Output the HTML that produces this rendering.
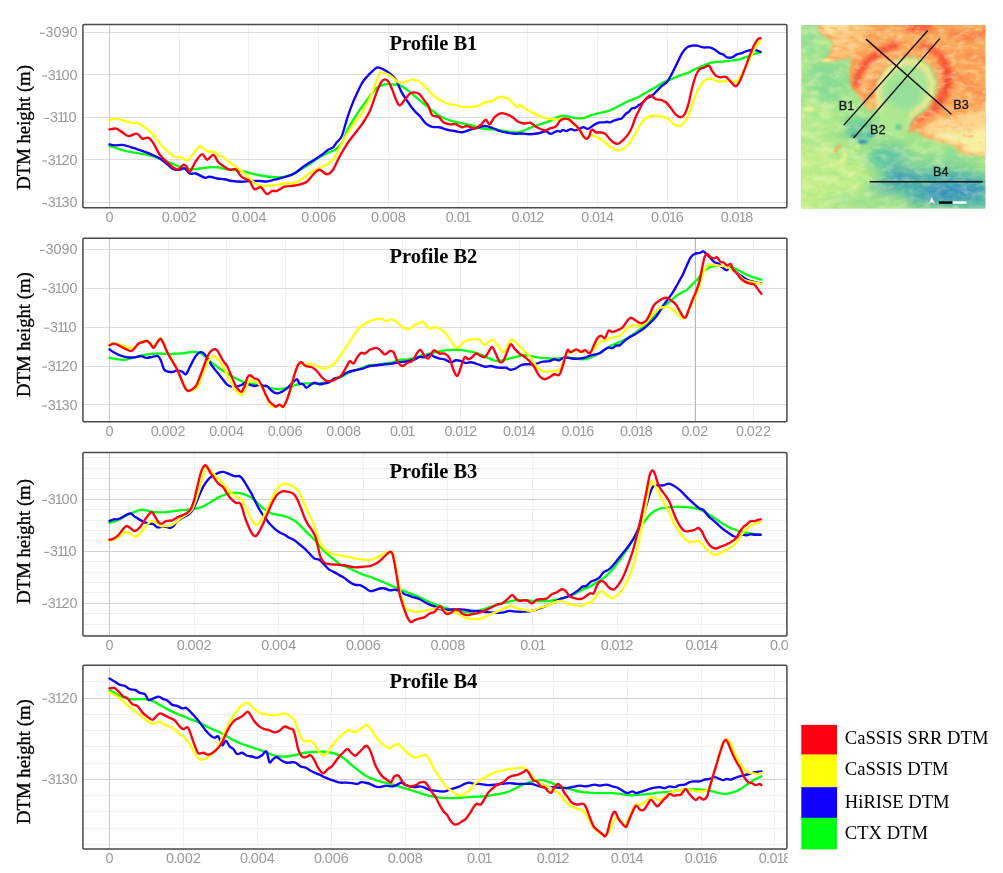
<!DOCTYPE html>
<html><head><meta charset="utf-8"><title>DTM profiles</title>
<style>
html,body{margin:0;padding:0;background:#fff;}
body{width:1003px;height:873px;overflow:hidden;}
svg{display:block;filter:blur(0.4px);will-change:transform;}
.tk{font-family:"Liberation Sans",sans-serif;font-size:14.4px;fill:#9a9a9a;}
.ti{font-family:"Liberation Serif",serif;font-weight:bold;font-size:20.5px;fill:#000;}
.yl{font-family:"Liberation Serif",serif;font-size:18.7px;fill:#000;stroke:#000;stroke-width:0.35px;}
.lg{font-family:"Liberation Serif",serif;font-size:18.6px;fill:#000;}
.mp{font-family:"Liberation Sans",sans-serif;font-size:13px;fill:#111;}
.cv{fill:none;stroke-width:2.35;stroke-linejoin:round;stroke-linecap:round;}
</style></head><body>
<svg width="1003" height="873" viewBox="0 0 1003 873">
<rect x="0" y="0" width="1003" height="873" fill="#fff"/>
<defs>
<clipPath id="cp1"><rect x="82.9" y="24.5" width="704.0" height="183.2"/></clipPath>
<clipPath id="ct1"><rect x="0" y="207.7" width="787.8" height="40"/></clipPath>
<clipPath id="cp2"><rect x="82.9" y="238.3" width="704.0" height="183.4"/></clipPath>
<clipPath id="ct2"><rect x="0" y="421.7" width="787.8" height="40"/></clipPath>
<clipPath id="cp3"><rect x="82.9" y="452.4" width="704.0" height="183.5"/></clipPath>
<clipPath id="ct3"><rect x="0" y="635.9" width="787.8" height="40"/></clipPath>
<clipPath id="cp4"><rect x="82.9" y="665.3" width="704.0" height="183.7"/></clipPath>
<clipPath id="ct4"><rect x="0" y="849.0" width="787.8" height="40"/></clipPath>
<clipPath id="mapclip"><rect x="24" y="23" width="828" height="825"/></clipPath>
<clipPath id="orclip"><path d="M110 0 L100 50 L170 100 L150 160 L115 188 L200 178 L250 165 L238 230 L250 300 L296 360 L328 405 L368 396 L362 340 L356 300 L374 250 L414 204 L472 170 L540 165 L600 200 L635 270 L630 340 L590 400 L540 440 L500 505 L545 500 L570 525 L640 545 L700 560 L760 605 L880 612 L880 0 Z"/></clipPath>
<filter id="mb1" x="-20%" y="-20%" width="140%" height="140%"><feGaussianBlur stdDeviation="7"/></filter>
<filter id="mb2" x="-30%" y="-30%" width="160%" height="160%"><feGaussianBlur stdDeviation="24"/></filter>
<filter id="mb3" x="-20%" y="-20%" width="140%" height="140%"><feGaussianBlur stdDeviation="5"/></filter>
<filter id="mb4" x="-20%" y="-20%" width="140%" height="140%"><feGaussianBlur stdDeviation="11"/></filter>
<filter id="ngh" x="0" y="0" width="100%" height="100%"><feTurbulence type="fractalNoise" baseFrequency="0.018 0.03" numOctaves="3" seed="11"/><feColorMatrix type="matrix" values="0 0 0 0 0.88  0 0 0 0 1  0 0 0 0 0.6  2.4 0 0 0 -1.05"/></filter>
<filter id="ngs" x="0" y="0" width="100%" height="100%"><feTurbulence type="fractalNoise" baseFrequency="0.018 0.03" numOctaves="3" seed="11"/><feColorMatrix type="matrix" values="0 0 0 0 0.2  0 0 0 0 0.72  0 0 0 0 0.4  -2.6 0 0 0 1.1"/></filter>
<filter id="noh" x="0" y="0" width="100%" height="100%"><feTurbulence type="fractalNoise" baseFrequency="0.025 0.045" numOctaves="3" seed="5"/><feColorMatrix type="matrix" values="0 0 0 0 1  0 0 0 0 0.86  0 0 0 0 0.6  2.6 0 0 0 -1.15"/></filter>
<filter id="nos" x="0" y="0" width="100%" height="100%"><feTurbulence type="fractalNoise" baseFrequency="0.025 0.045" numOctaves="3" seed="5"/><feColorMatrix type="matrix" values="0 0 0 0 0.96  0 0 0 0 0.25  0 0 0 0 0.12  -2.8 0 0 0 1.15"/></filter>
</defs>
<!-- panel 1 -->
<g>
<path d="M179.5 24.5V207.7M248.5 24.5V207.7M318.5 24.5V207.7M388.5 24.5V207.7M458.5 24.5V207.7M527.5 24.5V207.7M597.5 24.5V207.7M667.5 24.5V207.7M737.5 24.5V207.7" stroke="#f0f0f0" stroke-width="1" fill="none"/>
<path d="M82.9 32.5H786.9M82.9 74.5H786.9M82.9 117.5H786.9M82.9 159.5H786.9M82.9 202.5H786.9" stroke="#dedede" stroke-width="1" fill="none"/>
<path d="M109.5 24.5V207.7" stroke="#cbcbcb" stroke-width="1" fill="none"/>
<g clip-path="url(#cp1)">
<path class="cv" stroke="#00ff10" d="M109.47 146.08C111.22 146.62 116.53 148.37 119.94 149.32C123.35 150.28 126.59 151.11 129.91 151.81C133.23 152.52 136.56 152.98 139.88 153.56C143.2 154.14 146.53 154.47 149.85 155.3C153.17 156.13 156.5 157.3 159.82 158.54C163.14 159.79 166.47 161.41 169.79 162.78C173.11 164.15 176.44 165.69 179.76 166.77C183.08 167.85 186.41 168.97 189.73 169.26C193.05 169.55 196.38 168.85 199.7 168.51C203.02 168.18 206.76 167.48 209.67 167.27C212.58 167.06 214.24 166.94 217.15 167.27C220.06 167.6 223.8 168.76 227.12 169.26C230.44 169.76 233.77 169.76 237.09 170.26C240.41 170.76 243.74 171.51 247.06 172.25C250.38 173 253.29 174 257.03 174.75C260.77 175.49 265.75 176.32 269.49 176.74C273.23 177.16 276.14 177.49 279.46 177.24C282.78 176.99 286.11 176.41 289.43 175.24C292.76 174.08 296.08 172.09 299.4 170.26C302.73 168.43 306.05 166.44 309.37 164.28C312.7 162.12 316.02 159.29 319.34 157.3C322.67 155.3 326.4 153.77 329.31 152.31C332.22 150.86 334.5 150.44 336.79 148.57C339.07 146.7 341.24 144.23 343.02 141.1C344.8 137.96 345.49 133.73 347.48 129.76C349.47 125.79 352.46 121.24 354.96 117.3C357.45 113.35 359.94 109.61 362.43 106.08C364.93 102.55 367.42 99.23 369.91 96.11C372.4 93 374.9 89.34 377.39 87.39C379.88 85.44 382.37 84.9 384.87 84.4C387.36 83.9 389.85 84.23 392.34 84.4C394.84 84.56 397.33 84.48 399.82 85.39C402.31 86.31 404.81 88.09 407.3 89.88C409.79 91.67 412.28 94.03 414.78 96.11C417.27 98.19 419.76 100.27 422.25 102.34C424.75 104.42 427.24 106.58 429.73 108.57C432.22 110.57 434.72 112.65 437.21 114.31C439.7 115.97 442.19 117.42 444.69 118.54C447.18 119.67 449.67 120.33 452.16 121.04C454.66 121.74 457.15 122.24 459.64 122.78C462.13 123.32 464.63 123.74 467.12 124.28C469.61 124.82 472.1 125.32 474.6 126.02C477.09 126.73 479.58 127.97 482.07 128.51C484.57 129.05 487.06 129.05 489.55 129.26C492.04 129.47 494.54 129.47 497.03 129.76C499.52 130.05 502.01 130.59 504.51 131.01C507 131.42 509.49 132.05 511.98 132.25C514.48 132.46 516.97 132.75 519.46 132.25C521.95 131.75 524.45 130.3 526.94 129.26C529.43 128.22 531.24 127.16 534.42 126.02C537.59 124.88 543.06 123.43 545.98 122.42C548.91 121.4 549.97 120.84 551.96 119.93C553.96 119.01 556.12 117.6 557.95 116.93C559.77 116.27 561.27 116.02 562.93 115.94C564.59 115.85 566.09 116.1 567.92 116.44C569.74 116.77 571.9 117.6 573.9 117.93C575.89 118.26 577.89 118.51 579.88 118.43C581.87 118.35 583.87 118.01 585.86 117.43C587.86 116.85 589.85 115.6 591.84 114.94C593.84 114.28 595.83 113.91 597.83 113.44C599.82 112.98 601.81 112.65 603.81 112.15C605.8 111.65 607.8 111.23 609.79 110.45C611.78 109.67 613.78 108.46 615.77 107.46C617.77 106.47 619.76 105.47 621.75 104.47C623.75 103.47 625.74 102.39 627.74 101.48C629.73 100.57 631.89 99.74 633.72 98.99C635.55 98.24 637.28 97.7 638.7 96.99C640.13 96.29 640.42 95.86 642.25 94.78C644.09 93.71 647.24 91.96 649.73 90.54C652.22 89.13 654.72 87.76 657.21 86.31C659.7 84.85 662.19 83.07 664.69 81.82C667.18 80.57 669.67 79.87 672.16 78.83C674.66 77.79 677.15 76.54 679.64 75.59C682.13 74.63 684.63 74.14 687.12 73.1C689.61 72.06 692.1 70.48 694.6 69.36C697.09 68.24 699.58 67.41 702.07 66.37C704.57 65.33 707.06 63.87 709.55 63.13C712.04 62.38 714.54 62.17 717.03 61.88C719.52 61.59 722.01 61.59 724.51 61.38C727 61.17 729.49 60.97 731.98 60.63C734.48 60.3 736.97 60.01 739.46 59.39C741.95 58.76 744.45 57.81 746.94 56.9C749.43 55.98 752.13 54.65 754.42 53.9C756.7 53.16 759.61 52.66 760.65 52.41"/>
<path class="cv" stroke="#1000ff" d="M109.47 144.34C110.39 144.5 112.79 145.25 114.96 145.33C117.12 145.42 119.94 144.59 122.43 144.84C124.93 145.08 127.42 146.08 129.91 146.83C132.4 147.58 134.9 148.49 137.39 149.32C139.88 150.15 142.37 150.9 144.87 151.81C147.36 152.73 149.85 153.68 152.34 154.81C154.84 155.93 157.33 156.97 159.82 158.54C162.31 160.12 165.01 162.49 167.3 164.28C169.58 166.06 171.45 168.35 173.53 169.26C175.61 170.18 177.89 169.89 179.76 169.76C181.63 169.64 183.08 167.89 184.75 168.51C186.41 169.14 187.86 172.67 189.73 173.5C191.6 174.33 193.47 172.79 195.96 173.5C198.45 174.21 202.4 177.2 204.69 177.74C206.97 178.28 207.59 176.62 209.67 176.74C211.75 176.86 214.66 178.07 217.15 178.48C219.64 178.9 222.13 178.82 224.63 179.23C227.12 179.65 229.2 180.56 232.1 180.98C235.01 181.39 239.17 181.72 242.07 181.72C244.98 181.72 246.64 181.1 249.55 180.98C252.46 180.85 256.61 180.89 259.52 180.98C262.43 181.06 264.51 181.68 267 181.48C269.49 181.27 271.57 180.44 274.48 179.73C277.38 179.02 281.12 178.28 284.45 177.24C287.77 176.2 291.09 175.37 294.42 173.5C297.74 171.63 301.06 168.31 304.39 166.02C307.71 163.74 311.45 161.66 314.36 159.79C317.26 157.92 319.55 156.47 321.83 154.81C324.12 153.14 326.2 151.07 328.07 149.82C329.94 148.57 331.6 148.57 333.05 147.33C334.5 146.08 335.34 144.21 336.79 142.34C338.24 140.47 339.99 140.29 341.77 136.11C343.56 131.94 345.7 122.72 347.48 117.3C349.26 111.88 350.8 107.74 352.46 103.59C354.12 99.44 355.79 95.9 357.45 92.37C359.11 88.84 360.77 85.1 362.43 82.4C364.09 79.7 365.76 78.04 367.42 76.17C369.08 74.3 370.74 72.64 372.4 71.19C374.06 69.73 375.52 67.74 377.39 67.45C379.26 67.16 381.54 68.4 383.62 69.44C385.7 70.48 387.77 71.93 389.85 73.68C391.93 75.42 394.21 77 396.08 79.91C397.95 82.82 399.2 87.6 401.07 91.13C402.94 94.66 405.22 97.98 407.3 101.1C409.38 104.21 411.45 107.33 413.53 109.82C415.61 112.31 417.68 113.77 419.76 116.05C421.84 118.34 423.91 121.74 425.99 123.53C428.07 125.32 429.94 126.15 432.22 126.77C434.51 127.39 437.21 126.77 439.7 127.27C442.19 127.77 444.69 129.14 447.18 129.76C449.67 130.38 452.16 130.59 454.66 131.01C457.15 131.42 459.64 132.46 462.13 132.25C464.63 132.05 467.12 130.51 469.61 129.76C472.1 129.01 474.6 128.39 477.09 127.77C479.58 127.14 482.07 126.02 484.57 126.02C487.06 126.02 489.55 126.94 492.04 127.77C494.54 128.6 497.03 130.18 499.52 131.01C502.01 131.84 504.51 132.29 507 132.75C509.49 133.21 511.98 133.62 514.48 133.75C516.97 133.87 519.46 133.42 521.95 133.5C524.45 133.58 526.94 134.25 529.43 134.25C531.92 134.25 534.15 133.98 536.91 133.5C539.67 133.02 543.72 131.33 545.98 131.39C548.24 131.45 548.97 133.8 550.47 133.88C551.96 133.97 553.71 132.39 554.96 131.89C556.2 131.39 557.03 130.93 557.95 130.89C558.86 130.86 559.61 131.86 560.44 131.69C561.27 131.52 561.93 130 562.93 129.9C563.93 129.8 565.09 131.22 566.42 131.09C567.75 130.96 569.58 129.21 570.91 129.1C572.24 128.98 573.23 130.29 574.4 130.39C575.56 130.49 576.89 130.03 577.89 129.7C578.88 129.36 579.46 128.83 580.38 128.4C581.29 127.97 582.12 127.02 583.37 127.1C584.62 127.19 586.44 129.01 587.86 128.9C589.27 128.78 590.52 127.24 591.84 126.41C593.17 125.57 594.5 124.58 595.83 123.91C597.16 123.25 598.49 122.67 599.82 122.42C601.15 122.17 602.65 122.53 603.81 122.42C604.97 122.3 605.8 121.72 606.8 121.72C607.8 121.72 608.63 122.58 609.79 122.42C610.95 122.25 612.45 121.22 613.78 120.72C615.11 120.22 616.44 119.81 617.77 119.43C619.1 119.04 620.43 119.34 621.75 118.43C623.08 117.52 624.58 115.02 625.74 113.94C626.91 112.86 627.74 112.86 628.73 111.95C629.73 111.04 630.73 109.12 631.72 108.46C632.72 107.79 633.72 108.38 634.72 107.96C635.71 107.55 637.04 106.43 637.71 105.97C638.37 105.5 637.95 105.66 638.7 105.17C639.46 104.68 640.83 104.2 642.25 103.01C643.68 101.82 645.58 99.27 647.24 98.02C648.9 96.78 650.56 96.78 652.22 95.53C653.89 94.28 655.55 92.21 657.21 90.54C658.87 88.88 660.53 87.01 662.19 85.56C663.86 84.11 665.52 83.9 667.18 81.82C668.84 79.74 670.5 76.21 672.16 73.1C673.83 69.98 675.49 66.45 677.15 63.13C678.81 59.8 680.47 55.77 682.13 53.16C683.8 50.54 685.46 48.67 687.12 47.42C688.78 46.18 690.44 45.97 692.1 45.68C693.77 45.39 695.22 45.39 697.09 45.68C698.96 45.97 701.24 47.13 703.32 47.42C705.4 47.71 707.68 47.09 709.55 47.42C711.42 47.76 712.87 48.46 714.54 49.42C716.2 50.37 718.07 52.33 719.52 53.16C720.98 53.99 722.01 53.7 723.26 54.4C724.51 55.11 725.55 56.9 727 57.39C728.45 57.89 730.32 57.89 731.98 57.39C733.65 56.9 735.31 55.11 736.97 54.4C738.63 53.7 740.5 53.66 741.95 53.16C743.41 52.66 744.24 51.91 745.69 51.41C747.15 50.91 749.02 50.37 750.68 50.17C752.34 49.96 754 49.87 755.66 50.17C757.32 50.46 759.82 51.62 760.65 51.91"/>
<path class="cv" stroke="#ffff0a" d="M109.47 119.91C110.72 119.7 114.37 118.46 116.95 118.66C119.52 118.87 122.35 120.45 124.93 121.16C127.5 121.86 130.33 122.61 132.4 122.9C134.48 123.19 135.31 122.15 137.39 122.9C139.46 123.65 142.37 125.6 144.87 127.39C147.36 129.17 149.85 130.92 152.34 133.62C154.84 136.32 157.33 140.68 159.82 143.59C162.31 146.5 164.81 148.87 167.3 151.07C169.79 153.27 172.49 155.76 174.78 156.8C177.06 157.84 178.93 156.72 181.01 157.3C183.08 157.88 185.37 160.62 187.24 160.29C189.11 159.96 190.15 157.67 192.22 155.3C194.3 152.94 197.62 147 199.7 146.08C201.78 145.17 203.02 148.87 204.69 149.82C206.35 150.78 208.22 151.61 209.67 151.81C211.12 152.02 211.96 150.36 213.41 151.07C214.86 151.77 216.94 155.22 218.39 156.05C219.85 156.88 220.26 155.01 222.13 156.05C224 157.09 227.12 160.41 229.61 162.28C232.1 164.15 234.6 165.4 237.09 167.27C239.58 169.14 242.49 171.63 244.57 173.5C246.64 175.37 247.47 176.7 249.55 178.48C251.63 180.27 254.54 182.97 257.03 184.22C259.52 185.46 261.6 185.8 264.51 185.96C267.41 186.13 271.15 185.63 274.48 185.21C277.8 184.8 281.12 183.89 284.45 183.47C287.77 183.05 291.09 183.76 294.42 182.72C297.74 181.68 301.48 179.07 304.39 177.24C307.29 175.41 309.37 173.33 311.86 171.75C314.36 170.18 316.85 168.93 319.34 167.77C321.83 166.6 324.33 166.44 326.82 164.78C329.31 163.11 331.8 161.33 334.3 157.8C336.79 154.27 339.58 147.64 341.77 143.59C343.97 139.54 345.28 137.05 347.48 133.5C349.67 129.95 352.46 125.81 354.96 122.28C357.45 118.75 359.94 116.26 362.43 112.31C364.93 108.37 367.63 103.59 369.91 98.6C372.2 93.62 374.48 86.68 376.14 82.4C377.8 78.12 378.22 74.39 379.88 72.93C381.54 71.48 384.24 73.14 386.11 73.68C387.98 74.22 389.02 74.72 391.1 76.17C393.17 77.63 396.29 81.45 398.57 82.4C400.86 83.36 402.52 82.4 404.81 81.9C407.09 81.41 410 79.54 412.28 79.41C414.57 79.29 416.44 80.03 418.51 81.16C420.59 82.28 422.46 83.94 424.75 86.14C427.03 88.34 429.73 92.08 432.22 94.37C434.72 96.65 437.21 98.31 439.7 99.85C442.19 101.39 444.69 102.76 447.18 103.59C449.67 104.42 452.16 104.3 454.66 104.84C457.15 105.38 459.64 106.5 462.13 106.83C464.63 107.16 467.12 106.95 469.61 106.83C472.1 106.7 474.6 106.83 477.09 106.08C479.58 105.33 482.07 103.17 484.57 102.34C487.06 101.51 489.76 101.93 492.04 101.1C494.33 100.27 496.41 98.06 498.28 97.36C500.14 96.65 501.39 96.44 503.26 96.86C505.13 97.27 507.21 98.19 509.49 99.85C511.78 101.51 515.1 105.92 516.97 106.83C518.84 107.74 519.05 104.84 520.71 105.33C522.37 105.83 524.65 108.45 526.94 109.82C529.22 111.19 531.41 112.21 534.42 113.56C537.42 114.91 542.39 117.04 544.99 117.93C547.58 118.83 547.81 118.68 549.97 118.93C552.13 119.18 555.95 119.46 557.95 119.43C559.94 119.39 560.6 118.85 561.93 118.73C563.26 118.61 564.68 118.56 565.92 118.73C567.17 118.89 568.25 118.94 569.41 119.73C570.57 120.51 571.66 122.22 572.9 123.41C574.15 124.61 575.73 125.66 576.89 126.9C578.05 128.15 578.72 129.2 579.88 130.89C581.04 132.59 582.71 135.71 583.87 137.07C585.03 138.44 585.95 139.23 586.86 139.07C587.77 138.9 588.69 136.77 589.35 136.08C590.02 135.38 590.1 134.91 590.85 134.88C591.6 134.85 592.34 135.3 593.84 135.88C595.33 136.46 597.83 137.21 599.82 138.37C601.81 139.53 603.81 141.28 605.8 142.86C607.8 144.44 609.79 146.6 611.78 147.84C613.78 149.09 615.77 150.17 617.77 150.33C619.76 150.5 621.75 150.08 623.75 148.84C625.74 147.59 627.9 145.18 629.73 142.86C631.56 140.53 633.22 137.37 634.72 134.88C636.21 132.39 637.86 129.47 638.7 127.9C639.54 126.33 638.75 126.89 639.76 125.44C640.77 123.99 643.08 120.75 644.75 119.21C646.41 117.67 648.07 116.84 649.73 116.22C651.39 115.59 652.64 115.39 654.72 115.47C656.79 115.55 659.91 116.09 662.19 116.72C664.48 117.34 666.56 118.05 668.42 119.21C670.29 120.37 671.75 122.53 673.41 123.69C675.07 124.86 676.73 126.19 678.39 126.19C680.06 126.19 681.72 125.48 683.38 123.69C685.04 121.91 686.7 119.13 688.36 115.47C690.03 111.81 691.69 106.12 693.35 101.76C695.01 97.4 696.67 92.62 698.33 89.3C700 85.97 701.66 83.57 703.32 81.82C704.98 80.08 706.64 79.24 708.31 78.83C709.97 78.41 711.63 78.91 713.29 79.33C714.95 79.74 716.41 80.99 718.28 81.32C720.14 81.65 722.43 81.45 724.51 81.32C726.58 81.2 728.87 80.49 730.74 80.57C732.61 80.66 734.27 82.24 735.72 81.82C737.18 81.41 738.01 80.16 739.46 78.08C740.92 76 742.78 72.47 744.45 69.36C746.11 66.24 747.77 62.71 749.43 59.39C751.09 56.06 752.96 52.12 754.42 49.42C755.87 46.72 757.12 44.52 758.16 43.19C759.19 41.86 760.23 41.73 760.65 41.44"/>
<path class="cv" stroke="#ff0010" d="M109.47 129.38C110.59 129.26 114.04 128.14 116.2 128.63C118.36 129.13 120.36 131.13 122.43 132.37C124.51 133.62 126.25 135.9 128.66 136.11C131.07 136.32 134.6 133.2 136.89 133.62C139.17 134.03 140.42 137.9 142.37 138.6C144.33 139.31 146.73 137.03 148.6 137.86C150.47 138.69 151.72 140.76 153.59 143.59C155.46 146.41 157.54 151.69 159.82 154.81C162.11 157.92 165.01 160.12 167.3 162.28C169.58 164.44 171.66 166.6 173.53 167.77C175.4 168.93 176.85 169.76 178.51 169.26C180.18 168.76 182.13 165.19 183.5 164.78C184.87 164.36 185.7 165.61 186.74 166.77C187.78 167.93 188.19 172.71 189.73 171.75C191.27 170.8 193.89 163.99 195.96 161.04C198.04 158.09 200.32 154.27 202.19 154.06C204.06 153.85 205.31 159.67 207.18 159.79C209.05 159.92 211.54 154.39 213.41 154.81C215.28 155.22 216.73 160.41 218.39 162.28C220.06 164.15 221.51 164.78 223.38 166.02C225.25 167.27 227.53 169.22 229.61 169.76C231.69 170.3 233.97 168.22 235.84 169.26C237.71 170.3 239.37 174.45 240.83 175.99C242.28 177.53 243.11 177.65 244.57 178.48C246.02 179.32 247.89 179.19 249.55 180.98C251.21 182.76 252.67 188.16 254.54 189.2C256.41 190.24 258.69 186.38 260.77 187.21C262.84 188.04 265.13 193.56 267 194.19C268.87 194.81 270.32 191.49 271.98 190.95C273.65 190.41 274.89 191.65 276.97 190.95C279.05 190.24 281.95 187.54 284.45 186.71C286.94 185.88 289.43 186.29 291.92 185.96C294.42 185.63 296.91 185.42 299.4 184.72C301.89 184.01 304.59 183.39 306.88 181.72C309.16 180.06 311.03 176.74 313.11 174.75C315.19 172.75 317.06 169.84 319.34 169.76C321.63 169.68 324.53 174.25 326.82 174.25C329.1 174.25 330.97 172.59 333.05 169.76C335.13 166.94 336.88 161.68 339.28 157.3C341.69 152.92 344.87 147.44 347.48 143.47C350.09 139.5 352.46 136.82 354.96 133.5C357.45 130.18 359.94 127.27 362.43 123.53C364.93 119.79 367.63 116.05 369.91 111.07C372.2 106.08 374.27 98.4 376.14 93.62C378.01 88.84 379.67 84.77 381.13 82.4C382.58 80.03 383.62 79.49 384.87 79.41C386.11 79.33 387.36 80.16 388.6 81.9C389.85 83.65 391.1 86.89 392.34 89.88C393.59 92.87 394.84 97.27 396.08 99.85C397.33 102.43 398.37 105.33 399.82 105.33C401.27 105.33 403.14 101.8 404.81 99.85C406.47 97.9 408.13 94.87 409.79 93.62C411.45 92.37 413.11 92.25 414.78 92.37C416.44 92.5 418.1 92.91 419.76 94.37C421.42 95.82 423.29 99.14 424.75 101.1C426.2 103.05 427.24 103.71 428.48 106.08C429.73 108.45 430.56 113.52 432.22 115.3C433.89 117.09 436.59 115.64 438.45 116.8C440.32 117.96 441.57 121.04 443.44 122.28C445.31 123.53 447.59 123.94 449.67 124.28C451.75 124.61 453.83 123.78 455.9 124.28C457.98 124.78 460.26 126.98 462.13 127.27C464 127.56 465.04 125.81 467.12 126.02C469.2 126.23 472.31 128.72 474.6 128.51C476.88 128.31 478.96 126.23 480.83 124.78C482.7 123.32 484.36 119.87 485.81 119.79C487.27 119.71 488.1 124.69 489.55 124.28C491.01 123.86 492.87 119.08 494.54 117.3C496.2 115.51 497.86 114.18 499.52 113.56C501.18 112.94 502.43 113.02 504.51 113.56C506.58 114.1 509.7 115.43 511.98 116.8C514.27 118.17 516.14 120.66 518.22 121.78C520.29 122.91 522.37 123.36 524.45 123.53C526.52 123.7 528.6 122.16 530.68 122.78C532.76 123.4 534.52 126 536.91 127.27C539.29 128.54 542.81 130.21 544.99 130.39C547.16 130.58 548.14 129.06 549.97 128.4C551.8 127.74 554.29 127.65 555.95 126.41C557.61 125.16 558.61 122.2 559.94 120.92C561.27 119.64 562.43 118.98 563.93 118.73C565.42 118.48 567.42 118.73 568.91 119.43C570.41 120.12 571.57 121.75 572.9 122.92C574.23 124.08 575.73 125.16 576.89 126.41C578.05 127.65 578.72 128.65 579.88 130.39C581.04 132.14 582.71 135.46 583.87 136.87C585.03 138.29 585.95 139.03 586.86 138.87C587.77 138.7 588.69 137.21 589.35 135.88C590.02 134.55 590.27 131.92 590.85 130.89C591.43 129.86 592.01 129.45 592.84 129.7C593.67 129.95 594.67 131.94 595.83 132.39C597 132.84 598.33 132.22 599.82 132.39C601.32 132.55 603.31 132.47 604.81 133.38C606.3 134.3 607.46 136.46 608.79 137.87C610.12 139.28 611.29 140.86 612.78 141.86C614.28 142.86 616.11 144.1 617.77 143.85C619.43 143.6 621.09 141.86 622.75 140.36C624.41 138.87 626.24 136.96 627.74 134.88C629.23 132.8 630.4 130.89 631.72 127.9C633.05 124.91 634.55 119.76 635.71 116.93C636.88 114.11 637.41 113.48 638.7 110.95C640 108.42 641.87 104.21 643.5 101.76C645.13 99.31 647.24 97.32 648.48 96.28C649.73 95.24 649.73 95.03 650.98 95.53C652.22 96.03 654.3 98.56 655.96 99.27C657.62 99.97 659.29 99.27 660.95 99.77C662.61 100.27 664.27 100.89 665.93 102.26C667.59 103.63 669.26 105.91 670.92 107.99C672.58 110.07 674.24 113.18 675.9 114.72C677.56 116.26 679.43 117.3 680.89 117.21C682.34 117.13 683.38 116.38 684.63 114.22C685.87 112.06 687.12 108.62 688.36 104.25C689.61 99.89 690.86 92.83 692.1 88.05C693.35 83.27 694.6 78.7 695.84 75.59C697.09 72.47 698.13 70.73 699.58 69.36C701.04 67.99 702.99 67.99 704.57 67.36C706.14 66.74 707.81 65.08 709.05 65.62C710.3 66.16 710.92 68.94 712.04 70.6C713.17 72.27 714.33 74.47 715.78 75.59C717.24 76.71 719.11 77.13 720.77 77.33C722.43 77.54 724.09 76.09 725.75 76.84C727.41 77.58 729.08 80.24 730.74 81.82C732.4 83.4 734.27 86.31 735.72 86.31C737.18 86.31 738.22 84.02 739.46 81.82C740.71 79.62 741.95 76.21 743.2 73.1C744.45 69.98 745.69 66.45 746.94 63.13C748.19 59.8 749.43 56.27 750.68 53.16C751.92 50.04 753.17 46.8 754.42 44.43C755.66 42.06 757.12 39.99 758.16 38.95C759.19 37.91 760.23 38.33 760.65 38.2"/>
</g>
<rect x="82.9" y="24.5" width="704.0" height="183.2" fill="none" rx="1.2" stroke="#484848" stroke-width="1.5"/>
<text class="ti" x="389.5" y="49.6">Profile B1</text>
<text class="tk" x="45.57" y="37.1" dx="0 0 0 0">3090</text>
<path d="M39.97 33.3h4.8" stroke="#9a9a9a" stroke-width="1.15" fill="none"/>
<text class="tk" x="47.77" y="79.7" dx="0 -1.1 -1.1 0">3100</text>
<path d="M42.17 75.9h4.8" stroke="#9a9a9a" stroke-width="1.15" fill="none"/>
<text class="tk" x="49.97" y="122.25" dx="0 -1.1 -2.2 -1.1">3110</text>
<path d="M44.37 118.45h4.8" stroke="#9a9a9a" stroke-width="1.15" fill="none"/>
<text class="tk" x="47.77" y="164.8" dx="0 -1.1 -1.1 0">3120</text>
<path d="M42.17 161h4.8" stroke="#9a9a9a" stroke-width="1.15" fill="none"/>
<text class="tk" x="47.77" y="207.4" dx="0 -1.1 -1.1 0">3130</text>
<path d="M42.17 203.6h4.8" stroke="#9a9a9a" stroke-width="1.15" fill="none"/>
<g clip-path="url(#ct1)">
<text class="tk" x="105.55" y="221.8" dx="0">0</text>
<text class="tk" x="161.86" y="221.8" dx="0 -0.6 -0.6 0 0">0.002</text>
<text class="tk" x="231.58" y="221.8" dx="0 -0.6 -0.6 0 0">0.004</text>
<text class="tk" x="301.3" y="221.8" dx="0 -0.6 -0.6 0 0">0.006</text>
<text class="tk" x="371.02" y="221.8" dx="0 -0.6 -0.6 0 0">0.008</text>
<text class="tk" x="445.84" y="221.8" dx="0 -0.6 -0.6 -1.1">0.01</text>
<text class="tk" x="511.56" y="221.8" dx="0 -0.6 -0.6 -1.1 -1.1">0.012</text>
<text class="tk" x="581.28" y="221.8" dx="0 -0.6 -0.6 -1.1 -1.1">0.014</text>
<text class="tk" x="651" y="221.8" dx="0 -0.6 -0.6 -1.1 -1.1">0.016</text>
<text class="tk" x="720.72" y="221.8" dx="0 -0.6 -0.6 -1.1 -1.1">0.018</text>
</g>
<text class="yl" transform="translate(29.8 127.4) rotate(-90)" text-anchor="middle">DTM height (m)</text>
</g>
<!-- panel 2 -->
<g>
<path d="M168.5 238.3V421.7M226.5 238.3V421.7M285.5 238.3V421.7M343.5 238.3V421.7M402.5 238.3V421.7M460.5 238.3V421.7M519.5 238.3V421.7M577.5 238.3V421.7M636.5 238.3V421.7M694.5 238.3V421.7M753.5 238.3V421.7" stroke="#f0f0f0" stroke-width="1" fill="none"/>
<path d="M82.9 249.5H786.9M82.9 288.5H786.9M82.9 327.5H786.9M82.9 366.5H786.9M82.9 404.5H786.9" stroke="#dedede" stroke-width="1" fill="none"/>
<path d="M109.5 238.3V421.7" stroke="#cbcbcb" stroke-width="1" fill="none"/>
<path d="M695.5 238.3V421.7" stroke="#b8b8b8" stroke-width="1" fill="none"/>
<g clip-path="url(#cp2)">
<path class="cv" stroke="#00ff10" d="M109.47 357.8C110.8 358.05 114.87 358.96 117.45 359.29C120.02 359.62 122.43 360.04 124.93 359.79C127.42 359.54 129.91 358.42 132.4 357.8C134.9 357.17 137.39 356.63 139.88 356.05C142.37 355.47 144.87 354.72 147.36 354.31C149.85 353.89 152.34 353.68 154.84 353.56C157.33 353.43 159.82 353.48 162.31 353.56C164.81 353.64 167.3 354.06 169.79 354.06C172.28 354.06 174.78 353.73 177.27 353.56C179.76 353.39 182.25 353.35 184.75 353.06C187.24 352.77 189.73 351.86 192.22 351.81C194.72 351.77 197.62 352.11 199.7 352.81C201.78 353.52 203.02 354.68 204.69 356.05C206.35 357.42 208.01 359.58 209.67 361.04C211.33 362.49 212.99 363.53 214.66 364.78C216.32 366.02 217.98 367.35 219.64 368.51C221.3 369.68 222.96 370.72 224.63 371.75C226.29 372.79 227.95 373.75 229.61 374.75C231.27 375.74 232.93 376.82 234.6 377.74C236.26 378.65 237.92 379.48 239.58 380.23C241.24 380.98 242.9 381.68 244.57 382.22C246.23 382.76 247.47 383.14 249.55 383.47C251.63 383.8 254.54 383.8 257.03 384.22C259.52 384.63 262.01 385.26 264.51 385.96C267 386.67 269.91 387.91 271.98 388.45C274.06 388.99 275.31 389.12 276.97 389.2C278.63 389.29 279.88 389.29 281.95 388.95C284.03 388.62 286.94 387.91 289.43 387.21C291.92 386.5 294.42 385.34 296.91 384.72C299.4 384.09 301.89 383.68 304.39 383.47C306.88 383.26 309.37 383.47 311.86 383.47C314.36 383.47 316.85 383.68 319.34 383.47C321.83 383.26 324.33 382.93 326.82 382.22C329.31 381.52 331.8 380.15 334.3 379.23C336.79 378.32 339.58 377.7 341.77 376.74C343.97 375.78 345.28 374.58 347.48 373.5C349.67 372.42 352.46 371.21 354.96 370.26C357.45 369.3 359.94 368.6 362.43 367.77C364.93 366.94 367.42 365.77 369.91 365.27C372.4 364.78 374.9 365.07 377.39 364.78C379.88 364.48 382.37 363.94 384.87 363.53C387.36 363.11 389.85 362.91 392.34 362.28C394.84 361.66 397.33 360.29 399.82 359.79C402.31 359.29 404.81 359.62 407.3 359.29C409.79 358.96 412.28 358.46 414.78 357.8C417.27 357.13 419.76 356.01 422.25 355.3C424.75 354.6 427.24 354.14 429.73 353.56C432.22 352.98 434.72 352.35 437.21 351.81C439.7 351.27 442.19 350.65 444.69 350.32C447.18 349.99 449.67 349.9 452.16 349.82C454.66 349.74 457.15 349.61 459.64 349.82C462.13 350.03 464.63 350.65 467.12 351.07C469.61 351.48 472.1 351.61 474.6 352.31C477.09 353.02 479.58 354.27 482.07 355.3C484.57 356.34 487.06 357.59 489.55 358.54C492.04 359.5 494.54 360.83 497.03 361.04C499.52 361.24 502.01 360.33 504.51 359.79C507 359.25 509.49 358.42 511.98 357.8C514.48 357.17 516.97 356.47 519.46 356.05C521.95 355.64 524.45 355.18 526.94 355.3C529.43 355.43 531.92 356.38 534.42 356.8C536.91 357.22 539.4 357.51 541.89 357.8C544.39 358.09 546.88 358.42 549.37 358.54C551.86 358.67 554.36 358.67 556.85 358.54C559.34 358.42 561.83 357.92 564.33 357.8C566.82 357.67 568.79 357.53 571.8 357.8C574.82 358.06 579.42 359.41 582.43 359.38C585.45 359.35 587.42 358.47 589.91 357.64C592.4 356.8 594.9 355.77 597.39 354.39C599.88 353.02 602.37 350.95 604.87 349.41C607.36 347.87 609.85 346.42 612.34 345.17C614.84 343.93 617.33 343.1 619.82 341.93C622.31 340.77 624.81 339.65 627.3 338.19C629.79 336.74 632.28 334.95 634.78 333.21C637.27 331.46 639.76 329.8 642.25 327.72C644.75 325.65 647.24 323.16 649.73 320.75C652.22 318.34 654.72 315.76 657.21 313.27C659.7 310.78 662.19 308.08 664.69 305.79C667.18 303.51 669.67 301.55 672.16 299.56C674.66 297.57 677.15 295.49 679.64 293.83C682.13 292.16 685.04 291.13 687.12 289.59C689.2 288.05 690.44 286.27 692.1 284.6C693.77 282.94 695.43 281.49 697.09 279.62C698.75 277.75 700.41 275.17 702.07 273.39C703.74 271.6 705.4 270.06 707.06 268.9C708.72 267.74 709.97 266.91 712.04 266.41C714.12 265.91 717.03 265.91 719.52 265.91C722.01 265.91 724.51 265.99 727 266.41C729.49 266.82 731.98 267.45 734.48 268.4C736.97 269.36 739.46 270.9 741.95 272.14C744.45 273.39 746.94 274.84 749.43 275.88C751.92 276.92 754.92 277.75 756.91 278.37C758.9 279 760.65 279.41 761.4 279.62"/>
<path class="cv" stroke="#1000ff" d="M109.47 349.32C110.18 349.82 111.96 351.32 113.71 352.31C115.45 353.31 117.66 354.47 119.94 355.3C122.22 356.13 124.93 356.97 127.42 357.3C129.91 357.63 132.61 357.51 134.9 357.3C137.18 357.09 139.26 355.97 141.13 356.05C143 356.13 144.24 357.67 146.11 357.8C147.98 357.92 150.39 357.09 152.34 356.8C154.3 356.51 156.37 355.35 157.83 356.05C159.28 356.76 159.99 358.75 161.07 361.04C162.15 363.32 163.06 367.97 164.31 369.76C165.55 371.55 167.01 371.42 168.54 371.75C170.08 372.09 172.08 372 173.53 371.75C174.98 371.51 175.81 370.26 177.27 370.26C178.72 370.26 180.8 371.09 182.25 371.75C183.71 372.42 184.75 375 185.99 374.25C187.24 373.5 188.48 369.68 189.73 367.27C190.98 364.86 192.22 361.95 193.47 359.79C194.72 357.63 195.96 355.64 197.21 354.31C198.45 352.98 199.7 351.81 200.95 351.81C202.19 351.81 203.44 352.98 204.69 354.31C205.93 355.64 207.18 357.84 208.42 359.79C209.67 361.74 210.71 363.94 212.16 366.02C213.62 368.1 215.49 370.18 217.15 372.25C218.81 374.33 220.47 376.41 222.13 378.48C223.8 380.56 225.66 383.39 227.12 384.72C228.57 386.05 229.2 386.17 230.86 386.46C232.52 386.75 235.43 386.67 237.09 386.46C238.75 386.25 239.37 385.84 240.83 385.21C242.28 384.59 244.36 382.8 245.81 382.72C247.27 382.64 248.1 384.18 249.55 384.72C251.01 385.26 252.87 385.96 254.54 385.96C256.2 385.96 258.07 384.72 259.52 384.72C260.98 384.72 262.01 385.75 263.26 385.96C264.51 386.17 265.55 385.13 267 385.96C268.45 386.79 270.32 389.7 271.98 390.95C273.65 392.19 275.31 393.32 276.97 393.44C278.63 393.56 280.29 392.53 281.95 391.69C283.62 390.86 285.28 389.83 286.94 388.45C288.6 387.08 290.26 385.01 291.92 383.47C293.59 381.93 295.66 379.23 296.91 379.23C298.16 379.23 298.36 382.64 299.4 383.47C300.44 384.3 301.98 383.51 303.14 384.22C304.3 384.92 305.13 387.62 306.38 387.71C307.63 387.79 309.29 385.55 310.62 384.72C311.95 383.89 312.9 382.8 314.36 382.72C315.81 382.64 317.68 384.09 319.34 384.22C321 384.34 322.67 383.8 324.33 383.47C325.99 383.14 327.65 383.05 329.31 382.22C330.97 381.39 332.64 379.32 334.3 378.48C335.96 377.65 337.09 378.28 339.28 377.24C341.48 376.2 344.87 373.42 347.48 372.25C350.09 371.09 352.46 370.88 354.96 370.26C357.45 369.64 359.94 369.22 362.43 368.51C364.93 367.81 367.42 366.56 369.91 366.02C372.4 365.48 374.9 365.56 377.39 365.27C379.88 364.98 382.37 364.57 384.87 364.28C387.36 363.99 389.85 363.86 392.34 363.53C394.84 363.2 397.33 362.7 399.82 362.28C402.31 361.87 404.81 361.54 407.3 361.04C409.79 360.54 412.7 360 414.78 359.29C416.85 358.59 418.1 357.13 419.76 356.8C421.42 356.47 423.08 357.71 424.75 357.3C426.41 356.88 428.07 354.39 429.73 354.31C431.39 354.22 433.05 356.09 434.72 356.8C436.38 357.51 438.04 358.13 439.7 358.54C441.36 358.96 442.82 358.67 444.69 359.29C446.56 359.92 449.05 362.12 450.92 362.28C452.79 362.45 454.24 360.5 455.9 360.29C457.56 360.08 459.23 360.58 460.89 361.04C462.55 361.49 464.21 362.82 465.87 363.03C467.53 363.24 469.2 362.2 470.86 362.28C472.52 362.37 474.18 363.03 475.84 363.53C477.5 364.03 479.17 364.73 480.83 365.27C482.49 365.81 484.15 366.65 485.81 366.77C487.47 366.89 489.14 365.94 490.8 366.02C492.46 366.11 494.12 366.98 495.78 367.27C497.44 367.56 499.11 367.68 500.77 367.77C502.43 367.85 504.09 367.43 505.75 367.77C507.41 368.1 509.08 369.64 510.74 369.76C512.4 369.89 514.06 369.26 515.72 368.51C517.38 367.77 519.05 365.98 520.71 365.27C522.37 364.57 523.82 364.44 525.69 364.28C527.56 364.11 530.05 364.4 531.92 364.28C533.79 364.15 535.25 363.94 536.91 363.53C538.57 363.11 539.82 362.2 541.89 361.78C543.97 361.37 547.29 361.45 549.37 361.04C551.45 360.62 552.7 359.42 554.36 359.29C556.02 359.17 557.68 360.62 559.34 360.29C561 359.96 562.25 357.59 564.33 357.3C566.4 357.01 569.41 358.32 571.8 358.54C574.2 358.77 576.51 358.78 578.69 358.63C580.88 358.48 583.06 358.13 584.93 357.64C586.79 357.14 588.25 356.18 589.91 355.64C591.57 355.1 593.23 354.81 594.9 354.39C596.56 353.98 598.22 353.98 599.88 353.15C601.54 352.32 603.41 350.32 604.87 349.41C606.32 348.5 607.36 347.87 608.6 347.67C609.85 347.46 611.1 348.5 612.34 348.16C613.59 347.83 614.84 346.17 616.08 345.67C617.33 345.17 618.37 346 619.82 345.17C621.27 344.34 623.14 342.06 624.81 340.69C626.47 339.32 628.13 337.99 629.79 336.95C631.45 335.91 633.11 335.41 634.78 334.45C636.44 333.5 638.1 332.34 639.76 331.21C641.42 330.09 643.08 329.05 644.75 327.72C646.41 326.4 648.07 324.82 649.73 323.24C651.39 321.66 653.26 319.91 654.72 318.25C656.17 316.59 657.21 315.14 658.45 313.27C659.7 311.4 660.74 309.2 662.19 307.04C663.65 304.88 665.52 302.59 667.18 300.31C668.84 298.02 670.71 295.53 672.16 293.33C673.62 291.13 674.66 289.26 675.9 287.1C677.15 284.94 678.39 282.65 679.64 280.37C680.89 278.08 682.13 276 683.38 273.39C684.63 270.77 685.87 267.36 687.12 264.66C688.36 261.96 689.61 258.97 690.86 257.19C692.1 255.4 693.14 254.65 694.6 253.95C696.05 253.24 698.13 253.36 699.58 252.95C701.04 252.53 702.07 251.16 703.32 251.45C704.57 251.74 705.81 253.53 707.06 254.69C708.31 255.86 709.55 257.19 710.8 258.43C712.04 259.68 713.29 261.34 714.54 262.17C715.78 263 717.03 262.59 718.28 263.42C719.52 264.25 720.64 265.99 722.01 267.16C723.38 268.32 725.25 270.27 726.5 270.4C727.75 270.52 728.16 267.82 729.49 267.9C730.82 267.99 732.81 269.77 734.48 270.9C736.14 272.02 737.38 273.18 739.46 274.63C741.54 276.09 744.45 278.37 746.94 279.62C749.43 280.87 752.01 281.49 754.42 282.11C756.83 282.73 760.23 283.15 761.4 283.36"/>
<path class="cv" stroke="#ffff0a" d="M109.47 344.34C110.39 344.13 112.79 342.92 114.96 343.09C117.12 343.26 119.94 344.54 122.43 345.33C124.93 346.12 127.83 347.58 129.91 347.83C131.99 348.08 133.23 347.66 134.9 346.83C136.56 346 138.43 343.76 139.88 342.84C141.33 341.93 142.37 341.72 143.62 341.35C144.87 340.97 146.11 340.1 147.36 340.6C148.6 341.1 150.06 343.22 151.1 344.34C152.14 345.46 152.55 347.74 153.59 347.33C154.63 346.91 156.16 343.38 157.33 341.84C158.49 340.31 159.53 337.9 160.57 338.11C161.61 338.31 162.44 340.81 163.56 343.09C164.68 345.38 165.84 348.91 167.3 351.81C168.75 354.72 170.62 357.63 172.28 360.54C173.94 363.45 175.81 366.35 177.27 369.26C178.72 372.17 179.76 375.08 181.01 377.99C182.25 380.89 183.5 384.55 184.75 386.71C185.99 388.87 187.03 390.45 188.48 390.95C189.94 391.45 191.81 390.53 193.47 389.7C195.13 388.87 196.79 388.87 198.45 385.96C200.12 383.05 201.78 376.41 203.44 372.25C205.1 368.1 206.76 363.74 208.42 361.04C210.09 358.34 211.75 356.26 213.41 356.05C215.07 355.84 216.73 357.92 218.39 359.79C220.06 361.66 221.72 364.36 223.38 367.27C225.04 370.18 226.7 373.91 228.36 377.24C230.03 380.56 231.69 384.51 233.35 387.21C235.01 389.91 236.88 392.19 238.33 393.44C239.79 394.69 240.83 395.52 242.07 394.69C243.32 393.86 244.57 390.95 245.81 388.45C247.06 385.96 248.1 380.85 249.55 379.73C251.01 378.61 252.87 380.89 254.54 381.72C256.2 382.56 258.07 383.39 259.52 384.72C260.98 386.05 262.01 387.42 263.26 389.7C264.51 391.99 265.75 395.85 267 398.42C268.25 401 269.49 403.7 270.74 405.15C271.98 406.61 273.02 407.15 274.48 407.15C275.93 407.15 278.01 405.15 279.46 405.15C280.92 405.15 281.95 407.98 283.2 407.15C284.45 406.32 285.69 403.2 286.94 400.17C288.19 397.14 289.43 393.11 290.68 388.95C291.92 384.8 293.17 379.19 294.42 375.24C295.66 371.3 296.99 367.35 298.16 365.27C299.32 363.2 300.15 362.86 301.4 362.78C302.64 362.7 304.1 364.65 305.63 364.78C307.17 364.9 308.75 363.32 310.62 363.53C312.49 363.74 314.77 365.19 316.85 366.02C318.93 366.85 321.21 368.22 323.08 368.51C324.95 368.81 326.2 368.6 328.07 367.77C329.94 366.94 332.43 365.27 334.3 363.53C336.17 361.78 337.62 359.58 339.28 357.3C340.94 355.01 342.49 352.52 344.27 349.82C346.05 347.12 348.19 343.8 349.97 341.1C351.75 338.4 353.29 335.9 354.96 333.62C356.62 331.33 358.28 329.05 359.94 327.39C361.6 325.73 363.26 324.69 364.93 323.65C366.59 322.61 368.25 321.86 369.91 321.16C371.57 320.45 373.03 319.83 374.9 319.41C376.76 319 379.26 318.37 381.13 318.66C383 318.95 384.24 321.03 386.11 321.16C387.98 321.28 390.47 319.2 392.34 319.41C394.21 319.62 395.67 321.16 397.33 322.4C398.99 323.65 400.65 325.73 402.31 326.89C403.97 328.05 405.64 329.38 407.3 329.38C408.96 329.38 410.62 327.84 412.28 326.89C413.94 325.93 415.4 324.48 417.27 323.65C419.14 322.82 421.84 321.36 423.5 321.9C425.16 322.44 425.99 325.77 427.24 326.89C428.48 328.01 429.73 328.63 430.98 328.63C432.22 328.63 433.26 326.89 434.72 326.89C436.17 326.89 438.04 327.72 439.7 328.63C441.36 329.55 443.02 330.71 444.69 332.37C446.35 334.03 448.01 336.32 449.67 338.6C451.33 340.89 453.2 344.63 454.66 346.08C456.11 347.54 456.94 347.95 458.39 347.33C459.85 346.7 461.72 343.59 463.38 342.34C465.04 341.1 466.29 340.39 468.36 339.85C470.44 339.31 473.97 339.1 475.84 339.1C477.71 339.1 478.13 338.89 479.58 339.85C481.04 340.81 482.9 344.63 484.57 344.84C486.23 345.04 488.1 341.93 489.55 341.1C491.01 340.27 491.84 339.02 493.29 339.85C494.74 340.68 496.61 344 498.28 346.08C499.94 348.16 501.81 352.11 503.26 352.31C504.71 352.52 505.75 349.41 507 347.33C508.25 345.25 509.49 340.89 510.74 339.85C511.98 338.81 513.02 340.06 514.48 341.1C515.93 342.14 517.8 344.42 519.46 346.08C521.12 347.74 522.78 349.41 524.45 351.07C526.11 352.73 527.77 353.97 529.43 356.05C531.09 358.13 532.76 361.33 534.42 363.53C536.08 365.73 537.74 367.89 539.4 369.26C541.06 370.63 542.31 371.46 544.39 371.75C546.46 372.05 549.37 371.26 551.86 371.01C554.36 370.76 557.47 371.71 559.34 370.26C561.21 368.81 561.83 365.07 563.08 362.28C564.33 359.5 565.37 355.22 566.82 353.56C568.27 351.9 570.24 352.92 571.8 352.31C573.37 351.7 574.64 349.89 576.2 349.91C577.77 349.92 579.73 352.28 581.19 352.4C582.64 352.53 583.47 350.53 584.93 350.66C586.38 350.78 588.25 353.56 589.91 353.15C591.57 352.73 593.23 350.03 594.9 348.16C596.56 346.29 598.22 343.18 599.88 341.93C601.54 340.69 603.2 341.31 604.87 340.69C606.53 340.06 608.19 338.82 609.85 338.19C611.51 337.57 613.17 337.36 614.84 336.95C616.5 336.53 618.16 336.74 619.82 335.7C621.48 334.66 623.14 332.29 624.81 330.72C626.47 329.14 628.13 327.14 629.79 326.23C631.45 325.32 633.11 325.23 634.78 325.23C636.44 325.23 638.1 326.48 639.76 326.23C641.42 325.98 643.08 325.07 644.75 323.74C646.41 322.41 648.07 320.21 649.73 318.25C651.39 316.3 653.05 313.68 654.72 312.02C656.38 310.36 658.04 309.11 659.7 308.28C661.36 307.45 663.02 307.12 664.69 307.04C666.35 306.95 668.01 307.16 669.67 307.78C671.33 308.41 672.99 309.45 674.66 310.78C676.32 312.11 678.19 314.51 679.64 315.76C681.1 317.01 682.34 317.96 683.38 318.25C684.42 318.54 685.04 318.54 685.87 317.51C686.7 316.47 687.33 314.39 688.36 312.02C689.4 309.65 690.86 306 692.1 303.3C693.35 300.6 694.6 298.73 695.84 295.82C697.09 292.91 698.33 289.59 699.58 285.85C700.83 282.11 702.07 276.71 703.32 273.39C704.57 270.06 705.81 267.36 707.06 265.91C708.31 264.46 709.34 264.75 710.8 264.66C712.25 264.58 713.91 265.2 715.78 265.41C717.65 265.62 720.14 265.62 722.01 265.91C723.88 266.2 725.34 266.53 727 267.16C728.66 267.78 730.32 268.61 731.98 269.65C733.65 270.69 735.31 271.93 736.97 273.39C738.63 274.84 740.29 277.13 741.95 278.37C743.62 279.62 745.28 280.24 746.94 280.87C748.6 281.49 750.26 281.78 751.92 282.11C753.59 282.44 755.33 282.57 756.91 282.86C758.49 283.15 760.65 283.69 761.4 283.86"/>
<path class="cv" stroke="#ff0010" d="M109.47 345.33C110.18 345.04 112.17 343.59 113.71 343.59C115.25 343.59 116.82 344.5 118.69 345.33C120.56 346.16 122.85 347.62 124.93 348.57C127 349.53 129.49 351.19 131.16 351.07C132.82 350.94 133.65 349.07 134.9 347.83C136.14 346.58 137.18 344.59 138.63 343.59C140.09 342.59 142.17 342.26 143.62 341.84C145.07 341.43 146.11 340.6 147.36 341.1C148.6 341.6 150.06 343.71 151.1 344.84C152.14 345.96 152.55 348.24 153.59 347.83C154.63 347.41 156.16 343.88 157.33 342.34C158.49 340.81 159.53 338.4 160.57 338.6C161.61 338.81 162.44 341.3 163.56 343.59C164.68 345.87 165.84 349.41 167.3 352.31C168.75 355.22 170.62 358.13 172.28 361.04C173.94 363.94 175.81 366.85 177.27 369.76C178.72 372.67 179.76 375.58 181.01 378.48C182.25 381.39 183.62 385.13 184.75 387.21C185.87 389.29 186.49 390.61 187.74 390.95C188.98 391.28 190.85 390.03 192.22 389.2C193.59 388.37 194.72 387.96 195.96 385.96C197.21 383.97 198.45 380.35 199.7 377.24C200.95 374.12 202.19 370.59 203.44 367.27C204.69 363.94 205.93 360 207.18 357.3C208.42 354.6 209.46 352.4 210.92 351.07C212.37 349.74 214.45 348.78 215.9 349.32C217.36 349.86 218.39 352.35 219.64 354.31C220.89 356.26 222.13 359.08 223.38 361.04C224.63 362.99 225.87 363.74 227.12 366.02C228.36 368.31 229.61 371.84 230.86 374.75C232.1 377.65 233.35 380.98 234.6 383.47C235.84 385.96 237.17 388.33 238.33 389.7C239.5 391.07 240.54 392.32 241.58 391.69C242.61 391.07 243.57 388.37 244.57 385.96C245.56 383.55 246.64 379.02 247.56 377.24C248.47 375.45 248.89 375.04 250.05 375.24C251.21 375.45 253.17 377.74 254.54 378.48C255.91 379.23 257.03 378.48 258.28 379.73C259.52 380.98 260.77 383.47 262.01 385.96C263.26 388.45 264.51 392.07 265.75 394.69C267 397.3 268.25 400 269.49 401.67C270.74 403.33 272.19 403.83 273.23 404.66C274.27 405.49 274.68 406.65 275.72 406.65C276.76 406.65 278.22 404.66 279.46 404.66C280.71 404.66 281.95 407.48 283.2 406.65C284.45 405.82 285.69 402.7 286.94 399.67C288.19 396.64 289.43 392.61 290.68 388.45C291.92 384.3 293.17 378.69 294.42 374.75C295.66 370.8 296.99 366.85 298.16 364.78C299.32 362.7 300.15 362.08 301.4 362.28C302.64 362.49 303.89 365.19 305.63 366.02C307.38 366.85 310 366.44 311.86 367.27C313.73 368.1 315.19 369.35 316.85 371.01C318.51 372.67 320.17 375.58 321.83 377.24C323.5 378.9 325.16 380.35 326.82 380.98C328.48 381.6 330.14 381.39 331.8 380.98C333.47 380.56 335.13 379.52 336.79 378.48C338.45 377.45 339.99 377.03 341.77 374.75C343.56 372.46 346.11 367.06 347.48 364.78C348.84 362.49 348.93 361.24 349.97 361.04C351.01 360.83 352.46 364.24 353.71 363.53C354.96 362.82 356.2 358.59 357.45 356.8C358.69 355.01 359.94 353.35 361.19 352.81C362.43 352.27 363.47 354.06 364.93 353.56C366.38 353.06 368.04 350.78 369.91 349.82C371.78 348.87 374.48 347.83 376.14 347.83C377.8 347.83 378.43 348.74 379.88 349.82C381.33 350.9 383.2 354.1 384.87 354.31C386.53 354.51 388.4 351.4 389.85 351.07C391.3 350.73 392.34 350.65 393.59 352.31C394.84 353.97 395.87 358.75 397.33 361.04C398.78 363.32 400.65 365.73 402.31 366.02C403.97 366.31 405.64 363.61 407.3 362.78C408.96 361.95 410.83 362.37 412.28 361.04C413.74 359.71 414.69 356.67 416.02 354.81C417.35 352.94 418.81 349.61 420.26 349.82C421.71 350.03 423.37 354.6 424.75 356.05C426.12 357.51 427.24 359.17 428.48 358.54C429.73 357.92 431.18 353.68 432.22 352.31C433.26 350.94 433.47 350.11 434.72 350.32C435.96 350.53 438.04 353.02 439.7 353.56C441.36 354.1 443.02 352.73 444.69 353.56C446.35 354.39 448.22 355.84 449.67 358.54C451.12 361.24 452.16 366.85 453.41 369.76C454.66 372.67 455.9 376.41 457.15 375.99C458.39 375.58 459.64 370.38 460.89 367.27C462.13 364.15 463.38 358.63 464.63 357.3C465.87 355.97 467.12 359.29 468.36 359.29C469.61 359.29 470.86 358.25 472.1 357.3C473.35 356.34 474.6 353.89 475.84 353.56C477.09 353.23 478.13 354.68 479.58 355.3C481.04 355.93 483.11 357.8 484.57 357.3C486.02 356.8 487.06 354.06 488.31 352.31C489.55 350.57 490.8 346.62 492.04 346.83C493.29 347.04 494.54 351.07 495.78 353.56C497.03 356.05 498.28 360.54 499.52 361.78C500.77 363.03 502.01 362.62 503.26 361.04C504.51 359.46 505.75 355.1 507 352.31C508.25 349.53 509.49 344.96 510.74 344.34C511.98 343.71 513.02 347.04 514.48 348.57C515.93 350.11 517.8 352.19 519.46 353.56C521.12 354.93 522.78 355.55 524.45 356.8C526.11 358.05 527.77 359.29 529.43 361.04C531.09 362.78 532.76 364.78 534.42 367.27C536.08 369.76 537.74 374 539.4 375.99C541.06 377.99 542.73 379.02 544.39 379.23C546.05 379.44 547.71 378.07 549.37 377.24C551.03 376.41 552.7 374.66 554.36 374.25C556.02 373.83 557.89 376.32 559.34 374.75C560.8 373.17 561.75 368.85 563.08 364.78C564.41 360.7 566.07 352.4 567.32 350.32C568.56 348.24 569.08 352.46 570.56 352.31C572.04 352.16 574.43 349.48 576.2 349.41C577.97 349.34 579.73 351.78 581.19 351.9C582.64 352.03 583.47 349.95 584.93 350.16C586.38 350.37 588.46 353.9 589.91 353.15C591.36 352.4 592.4 348.16 593.65 345.67C594.9 343.18 596.14 339.86 597.39 338.19C598.63 336.53 599.88 335.7 601.13 335.7C602.37 335.7 603.62 339.02 604.87 338.19C606.11 337.36 607.36 331.75 608.6 330.72C609.85 329.68 610.89 332.05 612.34 331.96C613.8 331.88 615.67 330.92 617.33 330.22C618.99 329.51 620.65 329.3 622.31 327.72C623.97 326.15 625.84 322.41 627.3 320.75C628.75 319.08 629.58 317.75 631.04 317.75C632.49 317.75 634.36 319.83 636.02 320.75C637.68 321.66 639.35 323.24 641.01 323.24C642.67 323.24 644.54 322.2 645.99 320.75C647.45 319.29 648.48 317.01 649.73 314.51C650.98 312.02 652.22 307.87 653.47 305.79C654.72 303.71 655.75 303.22 657.21 302.05C658.66 300.89 660.53 299.52 662.19 298.81C663.86 298.11 665.72 297.57 667.18 297.81C668.63 298.06 669.46 299.19 670.92 300.31C672.37 301.43 674.45 302.8 675.9 304.54C677.36 306.29 678.39 308.7 679.64 310.78C680.89 312.85 682.34 315.97 683.38 317.01C684.42 318.05 685.04 318.05 685.87 317.01C686.7 315.97 687.33 313.48 688.36 310.78C689.4 308.08 690.86 303.92 692.1 300.81C693.35 297.69 694.6 295.41 695.84 292.08C697.09 288.76 698.54 284.81 699.58 280.87C700.62 276.92 701.24 272.35 702.07 268.4C702.9 264.46 703.74 259.6 704.57 257.19C705.4 254.78 706.02 253.95 707.06 253.95C708.1 253.95 709.55 256.44 710.8 257.19C712.04 257.93 713.5 258.43 714.54 258.43C715.57 258.43 715.99 256.56 717.03 257.19C718.07 257.81 719.73 261.34 720.77 262.17C721.81 263 722.22 261.63 723.26 262.17C724.3 262.71 725.75 265.12 727 265.41C728.25 265.7 729.7 263.21 730.74 263.92C731.78 264.62 732.19 268.07 733.23 269.65C734.27 271.23 735.72 271.93 736.97 273.39C738.22 274.84 739.46 277.04 740.71 278.37C741.95 279.7 742.99 280.53 744.45 281.36C745.9 282.19 747.77 282.82 749.43 283.36C751.09 283.9 752.96 283.57 754.42 284.6C755.87 285.64 756.99 288.05 758.16 289.59C759.32 291.13 760.86 293.12 761.4 293.83"/>
</g>
<rect x="82.9" y="238.3" width="704.0" height="183.4" fill="none" rx="1.2" stroke="#484848" stroke-width="1.5"/>
<text class="ti" x="389.5" y="263.4">Profile B2</text>
<text class="tk" x="45.57" y="254.2" dx="0 0 0 0">3090</text>
<path d="M39.97 250.4h4.8" stroke="#9a9a9a" stroke-width="1.15" fill="none"/>
<text class="tk" x="47.77" y="293.1" dx="0 -1.1 -1.1 0">3100</text>
<path d="M42.17 289.3h4.8" stroke="#9a9a9a" stroke-width="1.15" fill="none"/>
<text class="tk" x="49.97" y="332" dx="0 -1.1 -2.2 -1.1">3110</text>
<path d="M44.37 328.2h4.8" stroke="#9a9a9a" stroke-width="1.15" fill="none"/>
<text class="tk" x="47.77" y="370.9" dx="0 -1.1 -1.1 0">3120</text>
<path d="M42.17 367.1h4.8" stroke="#9a9a9a" stroke-width="1.15" fill="none"/>
<text class="tk" x="47.77" y="409.8" dx="0 -1.1 -1.1 0">3130</text>
<path d="M42.17 406h4.8" stroke="#9a9a9a" stroke-width="1.15" fill="none"/>
<g clip-path="url(#ct2)">
<text class="tk" x="105.5" y="435.8" dx="0">0</text>
<text class="tk" x="150.63" y="435.8" dx="0 -0.6 -0.6 0 0">0.002</text>
<text class="tk" x="209.17" y="435.8" dx="0 -0.6 -0.6 0 0">0.004</text>
<text class="tk" x="267.71" y="435.8" dx="0 -0.6 -0.6 0 0">0.006</text>
<text class="tk" x="326.25" y="435.8" dx="0 -0.6 -0.6 0 0">0.008</text>
<text class="tk" x="389.89" y="435.8" dx="0 -0.6 -0.6 -1.1">0.01</text>
<text class="tk" x="444.43" y="435.8" dx="0 -0.6 -0.6 -1.1 -1.1">0.012</text>
<text class="tk" x="502.97" y="435.8" dx="0 -0.6 -0.6 -1.1 -1.1">0.014</text>
<text class="tk" x="561.51" y="435.8" dx="0 -0.6 -0.6 -1.1 -1.1">0.016</text>
<text class="tk" x="620.05" y="435.8" dx="0 -0.6 -0.6 -1.1 -1.1">0.018</text>
<text class="tk" x="681.49" y="435.8" dx="0 -0.6 -0.6 0">0.02</text>
<text class="tk" x="736.03" y="435.8" dx="0 -0.6 -0.6 0 0">0.022</text>
</g>
<text class="yl" transform="translate(29.8 334.6) rotate(-90)" text-anchor="middle">DTM height (m)</text>
</g>
<!-- panel 3 -->
<g>
<path d="M82.9 634.5H786.9M82.9 624.5H786.9M82.9 613.5H786.9M82.9 592.5H786.9M82.9 582.5H786.9M82.9 572.5H786.9M82.9 561.5H786.9M82.9 540.5H786.9M82.9 530.5H786.9M82.9 520.5H786.9M82.9 509.5H786.9M82.9 489.5H786.9M82.9 478.5H786.9M82.9 468.5H786.9M82.9 457.5H786.9" stroke="#f0f0f0" stroke-width="1" fill="none"/>
<path d="M194.5 452.4V635.9M278.5 452.4V635.9M363.5 452.4V635.9M447.5 452.4V635.9M532.5 452.4V635.9M617.5 452.4V635.9M701.5 452.4V635.9M786.5 452.4V635.9" stroke="#f0f0f0" stroke-width="1" fill="none"/>
<path d="M82.9 499.5H786.9M82.9 551.5H786.9M82.9 603.5H786.9" stroke="#d2d2d2" stroke-width="1" fill="none"/>
<path d="M109.5 452.4V635.9" stroke="#cbcbcb" stroke-width="1" fill="none"/>
<g clip-path="url(#cp3)">
<path class="cv" stroke="#00ff10" d="M109.47 522.8C110.39 522.51 113.21 521.63 114.96 521.05C116.7 520.47 118.28 520.14 119.94 519.31C121.6 518.48 123.26 517.02 124.93 516.07C126.59 515.11 128.25 514.28 129.91 513.57C131.57 512.87 133.23 512.45 134.9 511.83C136.56 511.21 138.01 510.08 139.88 509.84C141.75 509.59 144.03 510 146.11 510.33C148.19 510.67 150.27 511.5 152.34 511.83C154.42 512.16 156.5 512.24 158.57 512.33C160.65 512.41 162.52 512.49 164.81 512.33C167.09 512.16 169.79 511.66 172.28 511.33C174.78 511 177.27 510.58 179.76 510.33C182.25 510.08 184.75 510.13 187.24 509.84C189.73 509.54 192.43 509 194.72 508.59C197 508.17 198.87 508.05 200.95 507.34C203.02 506.64 205.1 505.52 207.18 504.35C209.26 503.19 211.33 501.61 213.41 500.36C215.49 499.12 217.56 497.87 219.64 496.87C221.72 495.88 223.8 495.05 225.87 494.38C227.95 493.72 230.03 493.14 232.1 492.89C234.18 492.64 236.26 492.64 238.33 492.89C240.41 493.14 242.49 493.63 244.57 494.38C246.64 495.13 248.72 496.04 250.8 497.37C252.87 498.7 255.16 500.7 257.03 502.36C258.9 504.02 260.35 505.89 262.01 507.34C263.68 508.8 265.34 510.04 267 511.08C268.66 512.12 270.11 512.95 271.98 513.57C273.85 514.2 276.14 514.41 278.22 514.82C280.29 515.24 282.37 515.44 284.45 516.07C286.52 516.69 288.6 517.52 290.68 518.56C292.76 519.6 294.83 520.64 296.91 522.3C298.99 523.96 301.06 526.45 303.14 528.53C305.22 530.61 307.29 532.68 309.37 534.76C311.45 536.84 313.53 538.71 315.6 540.99C317.68 543.28 319.76 546.18 321.83 548.47C323.91 550.75 325.99 552.83 328.07 554.7C330.14 556.57 332.22 558.02 334.3 559.69C336.37 561.35 338.33 563.4 340.53 564.67C342.73 565.94 345.07 566.24 347.48 567.3C349.88 568.36 352.46 569.87 354.96 571.04C357.45 572.2 359.94 573.32 362.43 574.28C364.93 575.23 367.42 575.86 369.91 576.77C372.4 577.68 374.9 578.76 377.39 579.76C379.88 580.76 382.37 581.71 384.87 582.75C387.36 583.79 389.85 584.91 392.34 585.99C394.84 587.07 397.33 588.19 399.82 589.23C402.31 590.27 404.81 591.23 407.3 592.22C409.79 593.22 412.28 594.18 414.78 595.21C417.27 596.25 419.76 597.29 422.25 598.45C424.75 599.62 427.24 601.07 429.73 602.19C432.22 603.32 434.72 604.27 437.21 605.18C439.7 606.1 442.19 606.93 444.69 607.68C447.18 608.42 449.67 609.13 452.16 609.67C454.66 610.21 457.15 610.5 459.64 610.92C462.13 611.33 464.63 612.04 467.12 612.16C469.61 612.29 472.1 612.08 474.6 611.67C477.09 611.25 479.58 610.42 482.07 609.67C484.57 608.92 487.06 608.01 489.55 607.18C492.04 606.35 494.54 605.43 497.03 604.69C499.52 603.94 502.01 603.32 504.51 602.69C507 602.07 509.49 601.36 511.98 600.95C514.48 600.53 516.97 600.32 519.46 600.2C521.95 600.07 524.45 600.07 526.94 600.2C529.43 600.32 531.92 600.82 534.42 600.95C536.91 601.07 539.4 600.95 541.89 600.95C544.39 600.95 546.88 601.15 549.37 600.95C551.86 600.74 554.36 600.24 556.85 599.7C559.34 599.16 561.83 598.45 564.33 597.71C566.82 596.96 568.79 596.57 571.8 595.21C574.82 593.86 579.42 591.03 582.43 589.6C585.45 588.16 587.42 587.85 589.91 586.61C592.4 585.36 594.9 583.7 597.39 582.12C599.88 580.54 602.37 579.21 604.87 577.13C607.36 575.06 609.85 572.56 612.34 569.66C614.84 566.75 617.33 563.09 619.82 559.69C622.31 556.28 624.81 552.96 627.3 549.22C629.79 545.48 632.7 540.7 634.78 537.25C636.85 533.81 638.1 531.23 639.76 528.53C641.42 525.83 643.08 523.34 644.75 521.05C646.41 518.77 648.07 516.48 649.73 514.82C651.39 513.16 653.05 512.12 654.72 511.08C656.38 510.04 657.62 509.21 659.7 508.59C661.78 507.97 664.69 507.63 667.18 507.34C669.67 507.05 672.16 506.93 674.66 506.84C677.15 506.76 679.64 506.76 682.13 506.84C684.63 506.93 687.12 507.05 689.61 507.34C692.1 507.63 694.8 507.97 697.09 508.59C699.37 509.21 701.24 510.04 703.32 511.08C705.4 512.12 707.27 513.37 709.55 514.82C711.84 516.27 714.54 518.14 717.03 519.81C719.52 521.47 722.01 523.34 724.51 524.79C727 526.24 729.49 527.49 731.98 528.53C734.48 529.57 736.97 530.32 739.46 531.02C741.95 531.73 744.45 532.23 746.94 532.77C749.43 533.31 752.13 533.93 754.42 534.26C756.7 534.59 759.61 534.68 760.65 534.76"/>
<path class="cv" stroke="#1000ff" d="M109.47 521.05C110.18 520.76 112.38 519.6 113.71 519.31C115.04 519.02 115.99 519.64 117.45 519.31C118.9 518.97 120.77 518.14 122.43 517.31C124.09 516.48 125.96 514.95 127.42 514.32C128.87 513.7 129.91 513.16 131.16 513.57C132.4 513.99 133.44 515.78 134.9 516.81C136.35 517.85 138.22 518.89 139.88 519.81C141.54 520.72 143.2 521.67 144.87 522.3C146.53 522.92 148.4 523.21 149.85 523.54C151.3 523.88 152.34 523.67 153.59 524.29C154.84 524.92 155.87 526.87 157.33 527.28C158.78 527.7 160.86 526.87 162.31 526.78C163.77 526.7 164.68 526.62 166.05 526.78C167.42 526.95 169.29 527.91 170.54 527.78C171.78 527.66 172.41 527.16 173.53 526.04C174.65 524.92 175.81 522.42 177.27 521.05C178.72 519.68 180.59 518.77 182.25 517.81C183.91 516.86 185.78 516.23 187.24 515.32C188.69 514.41 189.73 513.87 190.98 512.33C192.22 510.79 193.47 508.59 194.72 506.1C195.96 503.6 197.21 500.28 198.45 497.37C199.7 494.46 200.95 491.14 202.19 488.65C203.44 486.16 204.69 484.2 205.93 482.42C207.18 480.63 208.22 479.18 209.67 477.93C211.12 476.68 212.99 475.85 214.66 474.94C216.32 474.03 218.19 472.95 219.64 472.45C221.1 471.95 221.93 471.74 223.38 471.95C224.83 472.16 226.5 472.99 228.36 473.69C230.23 474.4 232.73 475.77 234.6 476.19C236.47 476.6 238.13 475.56 239.58 476.19C241.04 476.81 242.07 478.26 243.32 479.93C244.57 481.59 245.81 484.08 247.06 486.16C248.31 488.23 249.55 490.1 250.8 492.39C252.04 494.67 253.29 497.37 254.54 499.87C255.78 502.36 257.03 505.06 258.28 507.34C259.52 509.63 260.77 511.7 262.01 513.57C263.26 515.44 264.51 516.9 265.75 518.56C267 520.22 268.04 521.88 269.49 523.54C270.95 525.21 272.81 527.08 274.48 528.53C276.14 529.98 277.8 531.23 279.46 532.27C281.12 533.31 282.78 533.85 284.45 534.76C286.11 535.67 287.77 536.84 289.43 537.75C291.09 538.67 292.76 539.16 294.42 540.24C296.08 541.32 297.74 542.86 299.4 544.23C301.06 545.6 302.73 546.93 304.39 548.47C306.05 550.01 307.71 551.79 309.37 553.45C311.03 555.12 312.7 557.4 314.36 558.44C316.02 559.48 317.68 558.65 319.34 559.69C321 560.72 322.67 563.01 324.33 564.67C325.99 566.33 327.65 568.41 329.31 569.66C330.97 570.9 332.64 571.23 334.3 572.15C335.96 573.06 337.62 574.18 339.28 575.14C340.94 576.1 342.49 576.7 344.27 577.88C346.05 579.07 348.19 581.11 349.97 582.25C351.75 583.4 353.29 584.25 354.96 584.75C356.62 585.24 358.28 584.75 359.94 585.24C361.6 585.74 363.26 586.78 364.93 587.74C366.59 588.69 368.25 590.56 369.91 590.98C371.57 591.39 373.23 590.64 374.9 590.23C376.56 589.81 378.22 588.78 379.88 588.48C381.54 588.19 383.2 588.19 384.87 588.48C386.53 588.78 388.19 590.02 389.85 590.23C391.51 590.44 393.17 589.61 394.84 589.73C396.5 589.86 398.16 590.23 399.82 590.98C401.48 591.72 403.14 593.39 404.81 594.22C406.47 595.05 408.13 595.38 409.79 595.96C411.45 596.54 413.11 597.17 414.78 597.71C416.44 598.25 418.1 598.45 419.76 599.2C421.42 599.95 423.08 601.28 424.75 602.19C426.41 603.11 428.07 603.94 429.73 604.69C431.39 605.43 433.05 605.93 434.72 606.68C436.38 607.43 438.04 608.67 439.7 609.17C441.36 609.67 443.02 609.59 444.69 609.67C446.35 609.75 447.59 609.75 449.67 609.67C451.75 609.59 454.66 609.17 457.15 609.17C459.64 609.17 462.13 609.38 464.63 609.67C467.12 609.96 469.61 610.71 472.1 610.92C474.6 611.12 477.09 610.71 479.58 610.92C482.07 611.12 484.57 611.87 487.06 612.16C489.55 612.45 492.04 612.58 494.54 612.66C497.03 612.75 499.52 612.95 502.01 612.66C504.51 612.37 507 611.08 509.49 610.92C511.98 610.75 514.48 611.54 516.97 611.67C519.46 611.79 521.95 611.79 524.45 611.67C526.94 611.54 529.43 611.46 531.92 610.92C534.42 610.38 536.91 609.26 539.4 608.42C541.89 607.59 544.39 607.05 546.88 605.93C549.37 604.81 551.86 602.94 554.36 601.69C556.85 600.45 559.34 599.41 561.83 598.45C564.33 597.5 566.71 597.23 569.31 595.96C571.91 594.69 575.26 592.4 577.45 590.84C579.63 589.28 580.98 587.44 582.43 586.61C583.89 585.77 584.72 586.69 586.17 585.86C587.63 585.03 589.49 582.66 591.16 581.62C592.82 580.58 594.69 580.37 596.14 579.63C597.6 578.88 598.63 578.38 599.88 577.13C601.13 575.89 602.17 573.39 603.62 572.15C605.07 570.9 606.94 570.9 608.6 569.66C610.27 568.41 611.93 566.54 613.59 564.67C615.25 562.8 616.91 560.52 618.57 558.44C620.24 556.36 621.9 554.29 623.56 552.21C625.22 550.13 626.88 548.26 628.54 545.98C630.21 543.69 631.87 541.41 633.53 538.5C635.19 535.59 636.85 532.48 638.51 528.53C640.18 524.58 642.05 519.18 643.5 514.82C644.95 510.46 646.12 506.1 647.24 502.36C648.36 498.62 649.19 495.09 650.23 492.39C651.27 489.69 652.1 487.32 653.47 486.16C654.84 484.99 656.79 485.53 658.45 485.41C660.12 485.28 661.78 485.7 663.44 485.41C665.1 485.12 666.76 483.66 668.42 483.66C670.09 483.66 671.54 484.37 673.41 485.41C675.28 486.45 677.77 488.32 679.64 489.9C681.51 491.47 682.96 493.22 684.63 494.88C686.29 496.54 687.95 498.29 689.61 499.87C691.27 501.44 692.93 502.9 694.6 504.35C696.26 505.81 698.13 507.68 699.58 508.59C701.04 509.5 701.87 508.59 703.32 509.84C704.77 511.08 706.64 514.32 708.31 516.07C709.97 517.81 711.63 518.85 713.29 520.3C714.95 521.76 716.61 523.3 718.28 524.79C719.94 526.29 721.6 527.95 723.26 529.28C724.92 530.61 726.58 531.65 728.25 532.77C729.91 533.89 731.57 535.26 733.23 536.01C734.89 536.75 736.76 537.46 738.22 537.25C739.67 537.05 740.5 535.09 741.95 534.76C743.41 534.43 745.49 535.34 746.94 535.26C748.39 535.18 749.22 534.35 750.68 534.26C752.13 534.18 754 534.68 755.66 534.76C757.32 534.84 759.82 534.76 760.65 534.76"/>
<path class="cv" stroke="#ffff0a" d="M109.47 540.49C110.39 540.29 113.21 540 114.96 539.25C116.7 538.5 118.07 537.25 119.94 536.01C121.81 534.76 124.3 532.06 126.17 531.77C128.04 531.48 129.49 533.43 131.16 534.26C132.82 535.09 134.48 537.09 136.14 536.75C137.8 536.42 139.46 534.05 141.13 532.27C142.79 530.48 144.45 527.91 146.11 526.04C147.77 524.17 149.44 521.59 151.1 521.05C152.76 520.51 154.42 521.97 156.08 522.8C157.74 523.63 159.41 525.5 161.07 526.04C162.73 526.58 164.39 526.16 166.05 526.04C167.71 525.91 169.38 525.91 171.04 525.29C172.7 524.67 174.36 523.54 176.02 522.3C177.68 521.05 179.35 519.06 181.01 517.81C182.67 516.57 184.33 515.94 185.99 514.82C187.65 513.7 189.52 512.95 190.98 511.08C192.43 509.21 193.47 506.72 194.72 503.6C195.96 500.49 197.21 496.54 198.45 492.39C199.7 488.23 200.95 482.63 202.19 478.68C203.44 474.73 204.69 470.25 205.93 468.71C207.18 467.17 208.42 468.63 209.67 469.46C210.92 470.29 212.16 472.36 213.41 473.69C214.66 475.02 215.69 475.98 217.15 477.43C218.6 478.89 220.47 480.55 222.13 482.42C223.8 484.29 225.46 486.78 227.12 488.65C228.78 490.52 230.44 492.18 232.1 493.63C233.77 495.09 235.43 496.33 237.09 497.37C238.75 498.41 240.62 498.2 242.07 499.87C243.53 501.53 244.57 504.64 245.81 507.34C247.06 510.04 248.31 513.57 249.55 516.07C250.8 518.56 252.04 520.84 253.29 522.3C254.54 523.75 255.78 525 257.03 524.79C258.28 524.58 259.52 522.71 260.77 521.05C262.01 519.39 263.26 517.11 264.51 514.82C265.75 512.54 267 510.04 268.25 507.34C269.49 504.64 270.74 501.32 271.98 498.62C273.23 495.92 274.48 493.22 275.72 491.14C276.97 489.06 278.01 487.4 279.46 486.16C280.92 484.91 282.78 483.87 284.45 483.66C286.11 483.46 287.77 484.29 289.43 484.91C291.09 485.53 292.76 486.16 294.42 487.4C296.08 488.65 297.95 490.1 299.4 492.39C300.86 494.67 301.89 498.2 303.14 501.11C304.39 504.02 305.63 507.14 306.88 509.84C308.13 512.54 309.37 514.61 310.62 517.31C311.86 520.01 313.11 522.71 314.36 526.04C315.6 529.36 316.85 533.93 318.1 537.25C319.34 540.58 320.38 543.69 321.83 545.98C323.29 548.26 324.95 549.59 326.82 550.96C328.69 552.33 330.97 553.45 333.05 554.2C335.13 554.95 336.88 555.01 339.28 555.45C341.69 555.89 344.87 556.31 347.48 556.83C350.09 557.35 352.46 558.16 354.96 558.57C357.45 558.99 359.94 559.11 362.43 559.32C364.93 559.53 367.63 560.07 369.91 559.82C372.2 559.57 374.06 558.74 376.14 557.83C378.22 556.91 380.5 555.25 382.37 554.34C384.24 553.42 385.9 552.76 387.36 552.34C388.81 551.93 390.06 551.51 391.1 551.84C392.14 552.18 392.76 551.76 393.59 554.34C394.42 556.91 395.17 562.23 396.08 567.3C397 572.37 398.03 579.35 399.07 584.75C400.11 590.15 401.15 595.75 402.31 599.7C403.48 603.65 404.6 606.56 406.05 608.42C407.51 610.29 409.17 610.38 411.04 610.92C412.91 611.46 415.19 611.67 417.27 611.67C419.35 611.67 421.42 611.25 423.5 610.92C425.58 610.58 427.65 610.09 429.73 609.67C431.81 609.26 434.09 608.63 435.96 608.42C437.83 608.22 439.08 607.8 440.95 608.42C442.82 609.05 444.89 611.46 447.18 612.16C449.46 612.87 452.16 612.04 454.66 612.66C457.15 613.29 460.06 614.95 462.13 615.9C464.21 616.86 465.04 617.85 467.12 618.39C469.2 618.93 472.1 619.14 474.6 619.14C477.09 619.14 479.58 619.14 482.07 618.39C484.57 617.65 487.06 615.78 489.55 614.66C492.04 613.53 494.54 612.7 497.03 611.67C499.52 610.63 502.22 609.38 504.51 608.42C506.79 607.47 508.66 605.93 510.74 605.93C512.81 605.93 514.68 607.8 516.97 608.42C519.25 609.05 521.95 609.26 524.45 609.67C526.94 610.09 529.43 611.25 531.92 610.92C534.42 610.58 536.91 608.51 539.4 607.68C541.89 606.85 544.39 606.85 546.88 605.93C549.37 605.02 551.86 603.02 554.36 602.19C556.85 601.36 559.34 600.61 561.83 600.95C564.33 601.28 566.09 603.38 569.31 604.19C572.54 605 578.38 605.94 581.19 605.8C584 605.65 584.51 603.93 586.17 603.31C587.83 602.68 589.49 603.18 591.16 602.06C592.82 600.94 594.48 598.44 596.14 596.58C597.8 594.71 599.46 591.17 601.13 590.84C602.79 590.51 604.24 593.33 606.11 594.58C607.98 595.83 610.47 598.24 612.34 598.32C614.21 598.4 615.67 596.53 617.33 595.08C618.99 593.63 620.65 591.96 622.31 589.6C623.97 587.23 625.64 584.4 627.3 580.87C628.96 577.34 630.83 572.77 632.28 568.41C633.74 564.05 634.78 559.89 636.02 554.7C637.27 549.51 638.51 543.28 639.76 537.25C641.01 531.23 642.25 525 643.5 518.56C644.75 512.12 646.2 504.02 647.24 498.62C648.28 493.22 648.9 489.06 649.73 486.16C650.56 483.25 651.18 480.96 652.22 481.17C653.26 481.38 654.72 485.12 655.96 487.4C657.21 489.69 658.25 492.18 659.7 494.88C661.15 497.58 663.02 500.49 664.69 503.6C666.35 506.72 668.01 510.04 669.67 513.57C671.33 517.11 672.99 521.67 674.66 524.79C676.32 527.91 677.98 529.98 679.64 532.27C681.3 534.55 683.17 536.92 684.63 538.5C686.08 540.08 686.91 541.2 688.36 541.74C689.82 542.28 691.69 541.86 693.35 541.74C695.01 541.62 696.88 540.7 698.33 540.99C699.79 541.28 700.83 542.24 702.07 543.48C703.32 544.73 704.36 546.93 705.81 548.47C707.27 550.01 709.34 551.67 710.8 552.71C712.25 553.75 713.08 554.58 714.54 554.7C715.99 554.83 717.86 554.08 719.52 553.45C721.18 552.83 722.64 552 724.51 550.96C726.38 549.92 728.87 548.47 730.74 547.22C732.61 545.98 734.06 545.35 735.72 543.48C737.38 541.62 739.05 538.29 740.71 536.01C742.37 533.72 744.03 531.44 745.69 529.78C747.35 528.11 749.02 527.08 750.68 526.04C752.34 525 754 524.25 755.66 523.54C757.32 522.84 759.82 522.09 760.65 521.8"/>
<path class="cv" stroke="#ff0010" d="M109.47 539.75C110.18 539.54 112.17 539.33 113.71 538.5C115.25 537.67 117.24 536.21 118.69 534.76C120.15 533.31 121.19 531.23 122.43 529.78C123.68 528.32 124.93 526.37 126.17 526.04C127.42 525.7 128.46 526.95 129.91 527.78C131.36 528.61 133.23 531.11 134.9 531.02C136.56 530.94 138.22 529.15 139.88 527.28C141.54 525.41 143.41 521.88 144.87 519.81C146.32 517.73 147.44 516.15 148.6 514.82C149.77 513.49 150.81 511.62 151.84 511.83C152.88 512.04 153.71 514.32 154.84 516.07C155.96 517.81 157.33 521.05 158.57 522.3C159.82 523.54 161.07 523.75 162.31 523.54C163.56 523.34 164.39 521.59 166.05 521.05C167.71 520.51 170.41 520.93 172.28 520.3C174.15 519.68 175.61 518.14 177.27 517.31C178.93 516.48 180.59 516.07 182.25 515.32C183.91 514.57 185.78 513.95 187.24 512.83C188.69 511.7 189.81 510.75 190.98 508.59C192.14 506.43 193.18 503.4 194.22 499.87C195.26 496.33 196.09 491.97 197.21 487.4C198.33 482.83 199.7 476.1 200.95 472.45C202.19 468.79 203.65 466.38 204.69 465.47C205.72 464.55 206.14 465.59 207.18 466.96C208.22 468.33 209.67 471.74 210.92 473.69C212.16 475.65 213.41 477.02 214.66 478.68C215.9 480.34 216.94 482.21 218.39 483.66C219.85 485.12 221.93 485.74 223.38 487.4C224.83 489.06 225.87 491.76 227.12 493.63C228.36 495.5 229.4 497.08 230.86 498.62C232.31 500.16 234.39 502.15 235.84 502.86C237.3 503.56 238.54 502.11 239.58 502.86C240.62 503.6 241.24 505.14 242.07 507.34C242.9 509.54 243.53 512.95 244.57 516.07C245.6 519.18 247.06 523.13 248.31 526.04C249.55 528.94 250.8 531.85 252.04 533.51C253.29 535.18 254.54 536.42 255.78 536.01C257.03 535.59 258.28 533.1 259.52 531.02C260.77 528.94 262.01 526.24 263.26 523.54C264.51 520.84 265.75 517.73 267 514.82C268.25 511.91 269.49 508.8 270.74 506.1C271.98 503.4 273.23 500.7 274.48 498.62C275.72 496.54 276.76 494.88 278.22 493.63C279.67 492.39 281.54 491.43 283.2 491.14C284.86 490.85 286.52 491.47 288.19 491.89C289.85 492.3 291.72 492.51 293.17 493.63C294.62 494.76 295.66 496.33 296.91 498.62C298.16 500.9 299.4 504.23 300.65 507.34C301.89 510.46 303.14 514.41 304.39 517.31C305.63 520.22 306.88 522.71 308.13 524.79C309.37 526.87 310.62 527.7 311.86 529.78C313.11 531.85 314.56 534.35 315.6 537.25C316.64 540.16 317.26 543.9 318.1 547.22C318.93 550.55 319.55 554.62 320.59 557.19C321.63 559.77 322.87 561.51 324.33 562.68C325.78 563.84 327.23 563.84 329.31 564.17C331.39 564.5 334.3 564.5 336.79 564.67C339.28 564.84 342.49 564.94 344.27 565.17C346.05 565.4 345.7 565.7 347.48 566.05C349.26 566.41 352.46 567.17 354.96 567.3C357.45 567.42 359.94 567.01 362.43 566.8C364.93 566.59 367.63 566.59 369.91 566.05C372.2 565.51 374.27 564.6 376.14 563.56C378.01 562.52 379.46 561.27 381.13 559.82C382.79 558.37 384.66 556.16 386.11 554.84C387.57 553.51 388.81 552.05 389.85 551.84C390.89 551.64 391.51 551.43 392.34 553.59C393.17 555.75 394 560.44 394.84 564.81C395.67 569.17 396.5 574.78 397.33 579.76C398.16 584.75 398.78 590.15 399.82 594.72C400.86 599.29 402.31 603.44 403.56 607.18C404.81 610.92 406.05 614.66 407.3 617.15C408.54 619.64 409.79 621.64 411.04 622.13C412.28 622.63 413.32 620.76 414.78 620.14C416.23 619.52 418.1 618.89 419.76 618.39C421.42 617.9 423.08 617.98 424.75 617.15C426.41 616.32 428.07 614.32 429.73 613.41C431.39 612.5 433.26 612.7 434.72 611.67C436.17 610.63 437.42 608.01 438.45 607.18C439.49 606.35 440.12 606.06 440.95 606.68C441.78 607.3 442.4 609.67 443.44 610.92C444.48 612.16 445.93 613.87 447.18 614.16C448.42 614.45 449.67 613.41 450.92 612.66C452.16 611.91 453.41 610.17 454.66 609.67C455.9 609.17 457.15 609.05 458.39 609.67C459.64 610.29 460.68 612.5 462.13 613.41C463.59 614.32 465.46 615.03 467.12 615.15C468.78 615.28 470.44 614.45 472.1 614.16C473.77 613.87 475.43 613.83 477.09 613.41C478.75 612.99 480.41 612.29 482.07 611.67C483.74 611.04 485.4 610.42 487.06 609.67C488.72 608.92 490.38 608.01 492.04 607.18C493.71 606.35 495.37 605.31 497.03 604.69C498.69 604.06 500.35 604.27 502.01 603.44C503.68 602.61 505.34 601.07 507 599.7C508.66 598.33 510.53 595.42 511.98 595.21C513.44 595.01 514.48 597.5 515.72 598.45C516.97 599.41 518.01 600.66 519.46 600.95C520.92 601.24 522.99 600.2 524.45 600.2C525.9 600.2 526.94 600.41 528.19 600.95C529.43 601.49 530.47 603.65 531.92 603.44C533.38 603.23 535.25 600.41 536.91 599.7C538.57 598.99 540.23 599.41 541.89 599.2C543.56 598.99 545.22 599.29 546.88 598.45C548.54 597.62 550.2 595.26 551.86 594.22C553.53 593.18 555.19 593.05 556.85 592.22C558.51 591.39 560.38 589.44 561.83 589.23C563.29 589.02 564.33 589.86 565.57 590.98C566.82 592.1 568.07 594.84 569.31 595.96C570.56 597.08 571.28 597.19 573.05 597.71C574.82 598.22 577.96 599.17 579.94 599.07C581.92 598.96 583.26 598.03 584.93 597.07C586.59 596.12 588.46 593.96 589.91 593.33C591.36 592.71 592.4 594.79 593.65 593.33C594.9 591.88 596.14 586.69 597.39 584.61C598.63 582.53 599.88 581.2 601.13 580.87C602.37 580.54 603.62 581.58 604.87 582.62C606.11 583.66 607.15 585.94 608.6 587.1C610.06 588.27 611.93 590.01 613.59 589.6C615.25 589.18 616.91 586.9 618.57 584.61C620.24 582.33 621.9 579.42 623.56 575.89C625.22 572.36 626.88 567.99 628.54 563.42C630.21 558.86 631.87 554.29 633.53 548.47C635.19 542.65 636.85 535.59 638.51 528.53C640.18 521.47 642.05 512.95 643.5 506.1C644.95 499.24 646.2 492.6 647.24 487.4C648.28 482.21 648.82 477.77 649.73 474.94C650.64 472.12 651.81 470.45 652.72 470.45C653.64 470.45 654.26 472.53 655.21 474.94C656.17 477.35 657.29 482.21 658.45 484.91C659.62 487.61 660.95 489.27 662.19 491.14C663.44 493.01 664.69 494.26 665.93 496.13C667.18 498 668.42 499.66 669.67 502.36C670.92 505.06 672.16 509.21 673.41 512.33C674.66 515.44 675.9 518.56 677.15 521.05C678.39 523.54 679.64 525.62 680.89 527.28C682.13 528.94 683.17 530.4 684.63 531.02C686.08 531.65 687.95 531.23 689.61 531.02C691.27 530.81 693.14 530.27 694.6 529.78C696.05 529.28 697.17 527.82 698.33 528.03C699.5 528.24 700.54 529.48 701.58 531.02C702.61 532.56 703.44 535.18 704.57 537.25C705.69 539.33 707.06 541.82 708.31 543.48C709.55 545.15 710.8 546.39 712.04 547.22C713.29 548.05 714.33 548.55 715.78 548.47C717.24 548.39 719.11 547.35 720.77 546.72C722.43 546.1 724.09 545.48 725.75 544.73C727.41 543.98 729.08 543.28 730.74 542.24C732.4 541.2 734.27 540.16 735.72 538.5C737.18 536.84 738.22 534.14 739.46 532.27C740.71 530.4 741.95 528.61 743.2 527.28C744.45 525.95 745.69 525.33 746.94 524.29C748.19 523.25 749.43 521.59 750.68 521.05C751.92 520.51 753.17 521.26 754.42 521.05C755.66 520.84 757.12 520.1 758.16 519.81C759.19 519.51 760.23 519.39 760.65 519.31"/>
</g>
<rect x="82.9" y="452.4" width="704.0" height="183.5" fill="none" rx="1.2" stroke="#484848" stroke-width="1.5"/>
<text class="ti" x="389.5" y="477.5">Profile B3</text>
<text class="tk" x="47.77" y="504.3" dx="0 -1.1 -1.1 0">3100</text>
<path d="M42.17 500.5h4.8" stroke="#9a9a9a" stroke-width="1.15" fill="none"/>
<text class="tk" x="49.97" y="556.25" dx="0 -1.1 -2.2 -1.1">3110</text>
<path d="M44.37 552.45h4.8" stroke="#9a9a9a" stroke-width="1.15" fill="none"/>
<text class="tk" x="47.77" y="608.2" dx="0 -1.1 -1.1 0">3120</text>
<path d="M42.17 604.4h4.8" stroke="#9a9a9a" stroke-width="1.15" fill="none"/>
<g clip-path="url(#ct3)">
<text class="tk" x="105.5" y="650" dx="0">0</text>
<text class="tk" x="176.69" y="650" dx="0 -0.6 -0.6 0 0">0.002</text>
<text class="tk" x="261.29" y="650" dx="0 -0.6 -0.6 0 0">0.004</text>
<text class="tk" x="345.89" y="650" dx="0 -0.6 -0.6 0 0">0.006</text>
<text class="tk" x="430.49" y="650" dx="0 -0.6 -0.6 0 0">0.008</text>
<text class="tk" x="520.19" y="650" dx="0 -0.6 -0.6 -1.1">0.01</text>
<text class="tk" x="600.79" y="650" dx="0 -0.6 -0.6 -1.1 -1.1">0.012</text>
<text class="tk" x="685.39" y="650" dx="0 -0.6 -0.6 -1.1 -1.1">0.014</text>
<text class="tk" x="769.99" y="650" dx="0 -0.6 -0.6 -1.1 -1.1">0.016</text>
</g>
<text class="yl" transform="translate(29.8 541.4) rotate(-90)" text-anchor="middle">DTM height (m)</text>
</g>
<!-- panel 4 -->
<g>
<path d="M82.9 844.5H786.9M82.9 828.5H786.9M82.9 811.5H786.9M82.9 795.5H786.9M82.9 763.5H786.9M82.9 746.5H786.9M82.9 730.5H786.9M82.9 714.5H786.9M82.9 681.5H786.9" stroke="#f0f0f0" stroke-width="1" fill="none"/>
<path d="M183.5 665.3V849.0M257.5 665.3V849.0M331.5 665.3V849.0M405.5 665.3V849.0M479.5 665.3V849.0M553.5 665.3V849.0M627.5 665.3V849.0M701.5 665.3V849.0M774.5 665.3V849.0" stroke="#f0f0f0" stroke-width="1" fill="none"/>
<path d="M82.9 698.5H786.9M82.9 779.5H786.9" stroke="#d2d2d2" stroke-width="1" fill="none"/>
<path d="M109.5 665.3V849.0" stroke="#cbcbcb" stroke-width="1" fill="none"/>
<g clip-path="url(#cp4)">
<path class="cv" stroke="#00ff10" d="M109.47 690.43C110.39 690.85 113.21 692.01 114.96 692.93C116.7 693.84 118.28 695.09 119.94 695.92C121.6 696.75 123.26 697.37 124.93 697.91C126.59 698.45 127.83 698.95 129.91 699.16C131.99 699.36 134.9 699.16 137.39 699.16C139.88 699.16 142.37 698.87 144.87 699.16C147.36 699.45 149.85 699.95 152.34 700.9C154.84 701.86 157.33 703.52 159.82 704.89C162.31 706.26 164.81 707.8 167.3 709.13C169.79 710.46 172.28 711.74 174.78 712.87C177.27 713.99 179.76 714.82 182.25 715.86C184.75 716.89 187.24 718.14 189.73 719.1C192.22 720.05 194.72 720.55 197.21 721.59C199.7 722.63 202.19 724.08 204.69 725.33C207.18 726.57 209.67 727.9 212.16 729.07C214.66 730.23 217.15 731.06 219.64 732.31C222.13 733.55 224.63 735.13 227.12 736.54C229.61 737.96 232.1 739.54 234.6 740.78C237.09 742.03 239.58 743.07 242.07 744.02C244.57 744.98 247.06 745.68 249.55 746.51C252.04 747.35 254.54 748.18 257.03 749.01C259.52 749.84 262.01 750.54 264.51 751.5C267 752.45 269.49 753.91 271.98 754.74C274.48 755.57 276.97 756.19 279.46 756.48C281.95 756.78 284.45 756.69 286.94 756.48C289.43 756.28 291.92 755.78 294.42 755.24C296.91 754.7 299.4 753.74 301.89 753.24C304.39 752.75 306.88 752.5 309.37 752.25C311.86 752 314.36 751.83 316.85 751.75C319.34 751.67 321.83 751.58 324.33 751.75C326.82 751.91 329.31 752.16 331.8 752.75C334.3 753.33 336.88 753.99 339.28 755.24C341.69 756.48 344.03 758.48 346.23 760.22C348.43 761.97 350.39 763.96 352.46 765.71C354.54 767.45 356.62 769.11 358.69 770.69C360.77 772.27 362.64 773.81 364.93 775.18C367.21 776.55 369.91 777.88 372.4 778.92C374.9 779.96 377.39 780.7 379.88 781.41C382.37 782.12 384.87 782.53 387.36 783.15C389.85 783.78 392.34 784.4 394.84 785.15C397.33 785.9 399.82 786.89 402.31 787.64C404.81 788.39 407.3 788.89 409.79 789.64C412.28 790.38 414.78 791.3 417.27 792.13C419.76 792.96 422.25 793.91 424.75 794.62C427.24 795.33 429.73 795.87 432.22 796.36C434.72 796.86 437.21 797.32 439.7 797.61C442.19 797.9 444.69 798.03 447.18 798.11C449.67 798.19 452.16 798.19 454.66 798.11C457.15 798.03 459.64 797.78 462.13 797.61C464.63 797.44 467.12 797.28 469.61 797.11C472.1 796.95 474.6 796.74 477.09 796.61C479.58 796.49 482.07 796.61 484.57 796.36C487.06 796.12 489.55 795.53 492.04 795.12C494.54 794.7 497.03 794.37 499.52 793.87C502.01 793.37 504.51 792.96 507 792.13C509.49 791.3 511.98 790.05 514.48 788.89C516.97 787.72 519.46 786.27 521.95 785.15C524.45 784.03 526.94 782.91 529.43 782.16C531.92 781.41 534.62 780.99 536.91 780.66C539.19 780.33 541.06 779.91 543.14 780.16C545.22 780.41 547.09 781.33 549.37 782.16C551.66 782.99 554.36 784.23 556.85 785.15C559.34 786.06 561.83 786.89 564.33 787.64C566.82 788.39 568.79 788.89 571.8 789.64C574.82 790.38 579.42 791.63 582.43 792.13C585.45 792.63 587.42 792.46 589.91 792.63C592.4 792.79 594.9 793.04 597.39 793.12C599.88 793.21 602.37 793.12 604.87 793.12C607.36 793.12 609.85 793 612.34 793.12C614.84 793.25 617.33 793.54 619.82 793.87C622.31 794.2 624.81 794.91 627.3 795.12C629.79 795.33 632.28 795.2 634.78 795.12C637.27 795.04 639.76 794.83 642.25 794.62C644.75 794.41 647.24 794.2 649.73 793.87C652.22 793.54 654.72 792.92 657.21 792.63C659.7 792.34 662.19 792.34 664.69 792.13C667.18 791.92 669.67 791.71 672.16 791.38C674.66 791.05 677.15 790.42 679.64 790.13C682.13 789.84 684.63 789.8 687.12 789.64C689.61 789.47 692.1 789.14 694.6 789.14C697.09 789.14 699.58 789.39 702.07 789.64C704.57 789.88 707.06 790.13 709.55 790.63C712.04 791.13 714.54 792.09 717.03 792.63C719.52 793.17 722.01 793.87 724.51 793.87C727 793.87 729.49 793.33 731.98 792.63C734.48 791.92 736.97 790.96 739.46 789.64C741.95 788.31 744.45 786.31 746.94 784.65C749.43 782.99 752.01 781.04 754.42 779.67C756.83 778.29 760.23 776.96 761.4 776.42"/>
<path class="cv" stroke="#1000ff" d="M109.47 678.47C110.39 679.01 113.21 680.63 114.96 681.71C116.7 682.79 118.28 684.24 119.94 684.95C121.6 685.66 123.26 685.24 124.93 685.95C126.59 686.65 128.25 688.52 129.91 689.19C131.57 689.85 133.23 689.31 134.9 689.93C136.56 690.56 138.22 692.22 139.88 692.93C141.54 693.63 143.41 693.01 144.87 694.17C146.32 695.33 147.15 699.2 148.6 699.9C150.06 700.61 151.93 698.95 153.59 698.41C155.25 697.87 156.91 696.54 158.57 696.66C160.24 696.79 162.11 698.53 163.56 699.16C165.01 699.78 165.84 699.45 167.3 700.4C168.75 701.36 170.62 703.98 172.28 704.89C173.94 705.8 175.61 705.3 177.27 705.89C178.93 706.47 180.8 708.05 182.25 708.38C183.71 708.71 184.54 707.22 185.99 707.88C187.45 708.55 189.32 710.71 190.98 712.37C192.64 714.03 194.3 715.9 195.96 717.85C197.62 719.8 199.29 721.92 200.95 724.08C202.61 726.24 204.27 728.86 205.93 730.81C207.59 732.76 209.46 734.63 210.92 735.8C212.37 736.96 213.41 737.67 214.66 737.79C215.9 737.92 217.15 735.3 218.39 736.54C219.64 737.79 220.89 744.56 222.13 745.27C223.38 745.97 224.63 740.57 225.87 740.78C227.12 740.99 228.36 745.14 229.61 746.51C230.86 747.89 232.1 747.76 233.35 749.01C234.6 750.25 235.63 753.37 237.09 753.99C238.54 754.62 240.41 752.45 242.07 752.75C243.74 753.04 245.4 755.11 247.06 755.74C248.72 756.36 250.38 756.15 252.04 756.48C253.71 756.82 255.37 757.94 257.03 757.73C258.69 757.52 260.44 756.28 262.01 755.24C263.59 754.2 265.25 750.34 266.5 751.5C267.75 752.66 268.37 760.97 269.49 762.22C270.61 763.46 271.98 759.81 273.23 758.98C274.48 758.15 275.52 756.94 276.97 757.23C278.42 757.52 280.29 759.81 281.95 760.72C283.62 761.64 285.28 762.47 286.94 762.72C288.6 762.97 290.47 762.22 291.92 762.22C293.38 762.22 294.21 762.01 295.66 762.72C297.12 763.42 298.99 765.62 300.65 766.45C302.31 767.29 303.97 766.99 305.63 767.7C307.29 768.41 308.96 769.78 310.62 770.69C312.28 771.61 313.94 772.44 315.6 773.18C317.26 773.93 318.93 774.43 320.59 775.18C322.25 775.93 323.91 776.92 325.57 777.67C327.23 778.42 328.9 779.04 330.56 779.67C332.22 780.29 333.88 780.91 335.54 781.41C337.21 781.91 338.75 782.45 340.53 782.66C342.31 782.86 344.24 782.57 346.23 782.66C348.22 782.74 350.59 782.95 352.46 783.15C354.33 783.36 355.99 784.07 357.45 783.9C358.9 783.74 359.94 782.37 361.19 782.16C362.43 781.95 363.47 782.37 364.93 782.66C366.38 782.95 368.25 783.28 369.91 783.9C371.57 784.53 373.23 785.85 374.9 786.39C376.56 786.93 378.01 787.27 379.88 787.14C381.75 787.02 384.03 785.77 386.11 785.65C388.19 785.52 390.47 786.56 392.34 786.39C394.21 786.23 395.87 785.27 397.33 784.65C398.78 784.03 399.82 782.66 401.07 782.66C402.31 782.66 403.35 784.03 404.81 784.65C406.26 785.27 408.13 785.98 409.79 786.39C411.45 786.81 413.11 787.14 414.78 787.14C416.44 787.14 418.1 786.31 419.76 786.39C421.42 786.48 423.08 787.02 424.75 787.64C426.41 788.26 428.07 789.64 429.73 790.13C431.39 790.63 433.05 790.42 434.72 790.63C436.38 790.84 438.04 791.26 439.7 791.38C441.36 791.5 443.02 791.67 444.69 791.38C446.35 791.09 448.01 790.18 449.67 789.64C451.33 789.1 452.99 788.68 454.66 788.14C456.32 787.6 457.98 787.1 459.64 786.39C461.3 785.69 462.96 784.53 464.63 783.9C466.29 783.28 467.95 782.66 469.61 782.66C471.27 782.66 472.93 783.69 474.6 783.9C476.26 784.11 477.92 783.78 479.58 783.9C481.24 784.03 482.9 784.44 484.57 784.65C486.23 784.86 487.68 785.15 489.55 785.15C491.42 785.15 493.71 784.86 495.78 784.65C497.86 784.44 499.73 784.15 502.01 783.9C504.3 783.65 507 783.15 509.49 783.15C511.98 783.15 514.48 783.78 516.97 783.9C519.46 784.03 521.95 783.9 524.45 783.9C526.94 783.9 529.43 783.49 531.92 783.9C534.42 784.32 536.91 785.77 539.4 786.39C541.89 787.02 544.39 787.52 546.88 787.64C549.37 787.77 551.86 787.06 554.36 787.14C556.85 787.23 559.34 788.06 561.83 788.14C564.33 788.22 566.29 788.06 569.31 787.64C572.33 787.23 577.34 785.85 579.94 785.65C582.54 785.44 583.26 786.39 584.93 786.39C586.59 786.39 588.25 785.94 589.91 785.65C591.57 785.36 593.23 784.65 594.9 784.65C596.56 784.65 598.01 785.65 599.88 785.65C601.75 785.65 604.03 784.53 606.11 784.65C608.19 784.77 610.47 785.9 612.34 786.39C614.21 786.89 615.67 786.93 617.33 787.64C618.99 788.35 620.65 789.72 622.31 790.63C623.97 791.55 625.64 793 627.3 793.12C628.96 793.25 630.83 791.38 632.28 791.38C633.74 791.38 634.78 793 636.02 793.12C637.27 793.25 638.31 792.54 639.76 792.13C641.21 791.71 643.08 791.17 644.75 790.63C646.41 790.09 648.07 789.39 649.73 788.89C651.39 788.39 653.05 787.93 654.72 787.64C656.38 787.35 658.04 787.06 659.7 787.14C661.36 787.23 663.02 788.26 664.69 788.14C666.35 788.01 668.01 786.56 669.67 786.39C671.33 786.23 672.99 787.35 674.66 787.14C676.32 786.93 677.98 785.56 679.64 785.15C681.3 784.73 682.96 785.15 684.63 784.65C686.29 784.15 687.95 782.7 689.61 782.16C691.27 781.62 692.93 781.53 694.6 781.41C696.26 781.29 697.92 781.7 699.58 781.41C701.24 781.12 702.9 780.08 704.57 779.67C706.23 779.25 707.89 779.33 709.55 778.92C711.21 778.5 712.87 777.17 714.54 777.17C716.2 777.17 718.07 778.42 719.52 778.92C720.98 779.42 722.01 780.16 723.26 780.16C724.51 780.16 725.75 779 727 778.92C728.25 778.83 729.49 779.79 730.74 779.67C731.98 779.54 733.02 778.71 734.48 778.17C735.93 777.63 737.8 776.92 739.46 776.42C741.12 775.93 742.78 775.59 744.45 775.18C746.11 774.76 747.77 774.43 749.43 773.93C751.09 773.43 752.42 772.6 754.42 772.19C756.41 771.77 760.23 771.56 761.4 771.44"/>
<path class="cv" stroke="#ffff0a" d="M109.47 692.43C110.39 692.84 113.21 693.92 114.96 694.92C116.7 695.92 118.28 697.08 119.94 698.41C121.6 699.74 123.26 701.4 124.93 702.9C126.59 704.39 128.25 706.05 129.91 707.38C131.57 708.71 133.23 709.63 134.9 710.87C136.56 712.12 138.22 713.49 139.88 714.86C141.54 716.23 143.2 717.77 144.87 719.1C146.53 720.43 148.19 722.13 149.85 722.84C151.51 723.54 153.17 723.54 154.84 723.33C156.5 723.13 158.16 721.34 159.82 721.59C161.48 721.84 163.14 724 164.81 724.83C166.47 725.66 168.13 725.74 169.79 726.57C171.45 727.41 173.11 728.57 174.78 729.81C176.44 731.06 178.1 732.72 179.76 734.05C181.42 735.38 183.08 736.13 184.75 737.79C186.41 739.45 188.07 741.61 189.73 744.02C191.39 746.43 193.26 749.88 194.72 752.25C196.17 754.62 197.21 756.98 198.45 758.23C199.7 759.48 200.74 759.81 202.19 759.72C203.65 759.64 205.52 758.69 207.18 757.73C208.84 756.78 210.5 755.65 212.16 753.99C213.83 752.33 215.49 750.38 217.15 747.76C218.81 745.14 220.68 741.2 222.13 738.29C223.59 735.38 224.63 733.1 225.87 730.31C227.12 727.53 228.16 724.29 229.61 721.59C231.07 718.89 232.93 716.4 234.6 714.11C236.26 711.83 237.92 709.67 239.58 707.88C241.24 706.09 243.11 704.22 244.57 703.39C246.02 702.56 247.06 702.36 248.31 702.9C249.55 703.44 250.59 705.3 252.04 706.63C253.5 707.96 255.37 709.75 257.03 710.87C258.69 711.99 259.94 712.7 262.01 713.36C264.09 714.03 267 714.61 269.49 714.86C271.98 715.11 274.48 715.11 276.97 714.86C279.46 714.61 282.37 713.2 284.45 713.36C286.52 713.53 287.77 714.69 289.43 715.86C291.09 717.02 292.96 717.93 294.42 720.34C295.87 722.75 296.91 727.2 298.16 730.31C299.4 733.43 300.65 737.17 301.89 739.04C303.14 740.91 304.18 741.24 305.63 741.53C307.09 741.82 309.16 740.37 310.62 740.78C312.07 741.2 313.11 742.44 314.36 744.02C315.6 745.6 316.85 748.38 318.1 750.25C319.34 752.12 320.59 754.49 321.83 755.24C323.08 755.99 324.33 755.65 325.57 754.74C326.82 753.83 327.86 751.75 329.31 749.75C330.77 747.76 332.64 744.85 334.3 742.78C335.96 740.7 337.62 738.95 339.28 737.29C340.94 735.63 342.69 734.05 344.27 732.81C345.84 731.56 347.15 729.9 348.72 729.81C350.3 729.73 352.05 732.22 353.71 732.31C355.37 732.39 357.03 731.27 358.69 730.31C360.36 729.36 362.31 727.49 363.68 726.57C365.05 725.66 365.88 724.62 366.92 724.83C367.96 725.04 368.79 726.41 369.91 727.82C371.03 729.23 372.4 731.43 373.65 733.3C374.9 735.17 376.14 737.46 377.39 739.04C378.63 740.62 379.67 741.53 381.13 742.78C382.58 744.02 384.66 745.6 386.11 746.51C387.57 747.43 388.6 748.38 389.85 748.26C391.1 748.13 392.14 746.47 393.59 745.77C395.04 745.06 397.12 743.69 398.57 744.02C400.03 744.35 400.86 746.31 402.31 747.76C403.77 749.21 405.64 751.29 407.3 752.75C408.96 754.2 410.83 755.65 412.28 756.48C413.74 757.32 414.57 757.86 416.02 757.73C417.48 757.61 419.35 756.15 421.01 755.74C422.67 755.32 424.54 754.49 425.99 755.24C427.45 755.99 428.48 758.15 429.73 760.22C430.98 762.3 432.22 765.42 433.47 767.7C434.72 769.99 435.75 771.65 437.21 773.93C438.66 776.22 440.53 779.12 442.19 781.41C443.86 783.69 445.52 785.98 447.18 787.64C448.84 789.3 450.5 790.22 452.16 791.38C453.83 792.54 455.49 794 457.15 794.62C458.81 795.24 460.47 795.53 462.13 795.12C463.8 794.7 465.66 793.17 467.12 792.13C468.57 791.09 469.61 790.26 470.86 788.89C472.1 787.52 473.14 785.36 474.6 783.9C476.05 782.45 477.92 781.2 479.58 780.16C481.24 779.12 482.9 778.58 484.57 777.67C486.23 776.76 487.68 775.59 489.55 774.68C491.42 773.77 493.71 772.85 495.78 772.19C497.86 771.52 499.73 771.23 502.01 770.69C504.3 770.15 507 769.36 509.49 768.95C511.98 768.53 514.68 768.41 516.97 768.2C519.25 767.99 521.54 767.45 523.2 767.7C524.86 767.95 525.69 768.66 526.94 769.69C528.19 770.73 529.43 772.4 530.68 773.93C531.92 775.47 532.96 777.46 534.42 778.92C535.87 780.37 537.74 781.62 539.4 782.66C541.06 783.69 542.73 784.32 544.39 785.15C546.05 785.98 547.71 786.81 549.37 787.64C551.03 788.47 552.7 789.1 554.36 790.13C556.02 791.17 557.68 792.21 559.34 793.87C561 795.53 562.67 798.23 564.33 800.1C565.99 801.97 567.65 803.84 569.31 805.09C570.97 806.33 572.94 806.96 574.3 807.58C575.65 808.2 576.09 808.41 577.45 808.83C578.8 809.24 580.98 809.04 582.43 810.07C583.89 811.11 584.93 813.19 586.17 815.06C587.42 816.93 588.66 819.21 589.91 821.29C591.16 823.37 592.4 825.86 593.65 827.52C594.9 829.18 595.93 830.1 597.39 831.26C598.84 832.42 600.92 833.79 602.37 834.5C603.83 835.21 604.87 836.25 606.11 835.5C607.36 834.75 608.6 832.38 609.85 830.01C611.1 827.65 612.34 823.37 613.59 821.29C614.84 819.21 616.08 817.55 617.33 817.55C618.57 817.55 619.74 820.04 621.07 821.29C622.4 822.54 624.06 825.44 625.3 825.03C626.55 824.61 627.38 821.21 628.54 818.8C629.71 816.39 631.04 812.94 632.28 810.57C633.53 808.2 634.57 805.59 636.02 804.59C637.48 803.59 639.35 805.13 641.01 804.59C642.67 804.05 644.54 802.51 645.99 801.35C647.45 800.19 648.48 798.32 649.73 797.61C650.98 796.9 652.02 796.7 653.47 797.11C654.92 797.53 657 799.81 658.45 800.1C659.91 800.39 660.74 799.69 662.19 798.86C663.65 798.03 665.52 796.36 667.18 795.12C668.84 793.87 670.5 792.13 672.16 791.38C673.83 790.63 675.49 790.84 677.15 790.63C678.81 790.42 680.47 790.3 682.13 790.13C683.8 789.97 685.46 789.64 687.12 789.64C688.78 789.64 690.44 789.84 692.1 790.13C693.77 790.42 695.43 791.17 697.09 791.38C698.75 791.59 700.41 791.59 702.07 791.38C703.74 791.17 705.69 791.17 707.06 790.13C708.43 789.1 709.14 788.06 710.3 785.15C711.46 782.24 712.83 776.84 714.04 772.69C715.24 768.53 716.32 764.38 717.53 760.22C718.73 756.07 720.1 751.08 721.27 747.76C722.43 744.44 723.34 741.61 724.51 740.28C725.67 738.95 727.08 738.95 728.25 739.78C729.41 740.62 730.32 742.9 731.49 745.27C732.65 747.64 733.98 751.29 735.22 753.99C736.47 756.69 737.63 759.18 738.96 761.47C740.29 763.75 741.87 766.04 743.2 767.7C744.53 769.36 745.49 770.53 746.94 771.44C748.39 772.35 750.26 772.77 751.92 773.18C753.59 773.6 755.33 773.93 756.91 773.93C758.49 773.93 760.65 773.31 761.4 773.18"/>
<path class="cv" stroke="#ff0010" d="M109.47 688.44C110.3 688.36 112.92 687.4 114.46 687.94C115.99 688.48 117.16 690.22 118.69 691.68C120.23 693.13 122.22 695.54 123.68 696.66C125.13 697.79 125.96 697.16 127.42 698.41C128.87 699.66 130.74 702.9 132.4 704.14C134.06 705.39 135.73 704.52 137.39 705.89C139.05 707.26 140.71 710.58 142.37 712.37C144.03 714.15 145.7 715.36 147.36 716.6C149.02 717.85 150.89 719.84 152.34 719.84C153.8 719.84 154.84 717.68 156.08 716.6C157.33 715.52 158.37 713.57 159.82 713.36C161.27 713.16 163.14 714.61 164.81 715.36C166.47 716.11 168.13 717.02 169.79 717.85C171.45 718.68 173.11 718.89 174.78 720.34C176.44 721.8 178.31 725.12 179.76 726.57C181.21 728.03 182.17 728.94 183.5 729.07C184.83 729.19 186.49 726.37 187.74 727.32C188.98 728.28 189.81 731.81 190.98 734.8C192.14 737.79 193.47 742.19 194.72 745.27C195.96 748.34 197 752 198.45 753.24C199.91 754.49 201.78 752.5 203.44 752.75C205.1 753 206.76 754.82 208.42 754.74C210.09 754.66 211.75 753.41 213.41 752.25C215.07 751.08 216.94 749.42 218.39 747.76C219.85 746.1 220.89 744.56 222.13 742.28C223.38 739.99 224.63 736.67 225.87 734.05C227.12 731.43 228.16 728.86 229.61 726.57C231.07 724.29 232.93 721.8 234.6 720.34C236.26 718.89 238.13 718.68 239.58 717.85C241.04 717.02 241.99 716.4 243.32 715.36C244.65 714.32 246.31 711.62 247.56 711.62C248.8 711.62 249.63 713.7 250.8 715.36C251.96 717.02 253.08 719.72 254.54 721.59C255.99 723.46 257.86 725.33 259.52 726.57C261.18 727.82 262.84 728.44 264.51 729.07C266.17 729.69 267.83 729.77 269.49 730.31C271.15 730.85 272.81 732.22 274.48 732.31C276.14 732.39 277.8 731.77 279.46 730.81C281.12 729.86 282.78 726.99 284.45 726.57C286.11 726.16 287.98 727.78 289.43 728.32C290.89 728.86 292.13 728.24 293.17 729.81C294.21 731.39 294.83 734.59 295.66 737.79C296.49 740.99 297.12 745.89 298.16 749.01C299.19 752.12 300.65 755.11 301.89 756.48C303.14 757.86 304.18 757.44 305.63 757.23C307.09 757.02 309.16 754.74 310.62 755.24C312.07 755.74 313.11 758.15 314.36 760.22C315.6 762.3 316.85 765.62 318.1 767.7C319.34 769.78 320.8 771.86 321.83 772.69C322.87 773.52 323.29 773.31 324.33 772.69C325.37 772.06 326.82 769.99 328.07 768.95C329.31 767.91 330.56 767.7 331.8 766.45C333.05 765.21 334.3 763.13 335.54 761.47C336.79 759.81 338.04 757.94 339.28 756.48C340.53 755.03 341.66 753.99 343.02 752.75C344.39 751.5 346.11 749.01 347.48 749.01C348.84 749.01 349.97 751.62 351.22 752.75C352.46 753.87 353.71 755.74 354.96 755.74C356.2 755.74 357.45 753.87 358.69 752.75C359.94 751.62 361.19 750.17 362.43 749.01C363.68 747.84 365.01 745.77 366.17 745.77C367.33 745.77 368.37 747.22 369.41 749.01C370.45 750.79 371.49 753.99 372.4 756.48C373.32 758.98 373.86 761.47 374.9 763.96C375.93 766.45 377.39 769.36 378.63 771.44C379.88 773.52 380.92 774.97 382.37 776.42C383.83 777.88 385.9 779.21 387.36 780.16C388.81 781.12 389.93 782.78 391.1 782.16C392.26 781.53 393.09 777.5 394.34 776.42C395.58 775.34 397.24 774.85 398.57 775.68C399.9 776.51 401.07 779.83 402.31 781.41C403.56 782.99 404.6 784.32 406.05 785.15C407.51 785.98 409.38 786.39 411.04 786.39C412.7 786.39 414.57 785.77 416.02 785.15C417.48 784.53 418.31 783.15 419.76 782.66C421.21 782.16 423.29 781.53 424.75 782.16C426.2 782.78 427.24 784.65 428.48 786.39C429.73 788.14 430.98 790.76 432.22 792.63C433.47 794.5 434.72 795.53 435.96 797.61C437.21 799.69 438.45 802.8 439.7 805.09C440.95 807.37 442.19 809.66 443.44 811.32C444.69 812.98 445.93 813.4 447.18 815.06C448.42 816.72 449.67 819.71 450.92 821.29C452.16 822.87 453.41 824.11 454.66 824.53C455.9 824.95 457.15 824.32 458.39 823.78C459.64 823.24 460.89 822.12 462.13 821.29C463.38 820.46 464.63 820.04 465.87 818.8C467.12 817.55 468.36 815.68 469.61 813.81C470.86 811.94 472.19 809.24 473.35 807.58C474.51 805.92 475.34 804.34 476.59 803.84C477.84 803.34 479.5 805.42 480.83 804.59C482.16 803.76 483.32 800.85 484.57 798.86C485.81 796.86 487.06 794.29 488.31 792.63C489.55 790.96 490.8 790.05 492.04 788.89C493.29 787.72 494.54 786.48 495.78 785.65C497.03 784.82 498.07 784.61 499.52 783.9C500.98 783.2 503.05 782.45 504.51 781.41C505.96 780.37 506.79 778.63 508.25 777.67C509.7 776.72 511.57 776.18 513.23 775.68C514.89 775.18 516.55 775.26 518.22 774.68C519.88 774.1 521.83 772.94 523.2 772.19C524.57 771.44 525.4 769.9 526.44 770.19C527.48 770.48 528.31 772.27 529.43 773.93C530.55 775.59 531.92 778.92 533.17 780.16C534.42 781.41 535.66 780.37 536.91 781.41C538.16 782.45 539.4 785.44 540.65 786.39C541.89 787.35 543.14 786.31 544.39 787.14C545.63 787.97 546.96 790.47 548.13 791.38C549.29 792.29 550.33 793.25 551.37 792.63C552.4 792 553.24 789.1 554.36 787.64C555.48 786.19 556.85 783.9 558.1 783.9C559.34 783.9 560.8 786.19 561.83 787.64C562.87 789.1 563.29 790.96 564.33 792.63C565.37 794.29 566.82 795.95 568.07 797.61C569.31 799.27 570.24 801.43 571.8 802.6C573.37 803.76 575.88 804.38 577.45 804.59C579.01 804.8 580.15 803.97 581.19 803.84C582.22 803.72 582.85 803.22 583.68 803.84C584.51 804.47 585.13 805.3 586.17 807.58C587.21 809.87 588.66 814.44 589.91 817.55C591.16 820.67 592.4 824.2 593.65 826.28C594.9 828.35 596.14 828.89 597.39 830.01C598.63 831.14 599.88 831.97 601.13 833C602.37 834.04 603.83 836.33 604.87 836.25C605.9 836.16 606.53 834.79 607.36 832.51C608.19 830.22 608.94 825.65 609.85 822.54C610.76 819.42 611.93 815.56 612.84 813.81C613.76 812.07 614.38 811.24 615.33 812.07C616.29 812.9 617.41 816.85 618.57 818.8C619.74 820.75 621.07 822.41 622.31 823.78C623.56 825.15 625.01 827.44 626.05 827.02C627.09 826.61 627.51 823.7 628.54 821.29C629.58 818.88 631.04 815.18 632.28 812.57C633.53 809.95 634.78 806.09 636.02 805.59C637.27 805.09 638.51 808.83 639.76 809.58C641.01 810.32 642.25 810.82 643.5 810.07C644.75 809.33 645.99 806.83 647.24 805.09C648.48 803.34 649.73 799.81 650.98 799.61C652.22 799.4 653.59 802.72 654.72 803.84C655.84 804.96 656.46 806.75 657.71 806.33C658.95 805.92 660.82 802.8 662.19 801.35C663.56 799.9 664.69 798.86 665.93 797.61C667.18 796.36 668.42 794.2 669.67 793.87C670.92 793.54 672.16 795.41 673.41 795.62C674.66 795.82 675.9 795.28 677.15 795.12C678.39 794.95 679.85 795.24 680.89 794.62C681.93 794 682.55 792.34 683.38 791.38C684.21 790.42 685.04 788.68 685.87 788.89C686.7 789.1 687.33 791.26 688.36 792.63C689.4 794 690.86 795.87 692.1 797.11C693.35 798.36 694.6 800.1 695.84 800.1C697.09 800.1 698.33 797.2 699.58 797.11C700.83 797.03 702.07 799.73 703.32 799.61C704.57 799.48 706.02 798.36 707.06 796.36C708.1 794.37 708.51 791.17 709.55 787.64C710.59 784.11 712.04 779.33 713.29 775.18C714.54 771.02 715.78 766.87 717.03 762.72C718.28 758.56 719.6 753.78 720.77 750.25C721.93 746.72 723.05 743.19 724.01 741.53C724.96 739.87 725.59 739.45 726.5 740.28C727.41 741.11 728.37 744.02 729.49 746.51C730.61 749.01 731.98 752.54 733.23 755.24C734.48 757.94 735.72 760.43 736.97 762.72C738.22 765 739.46 766.45 740.71 768.95C741.95 771.44 743.2 775.47 744.45 777.67C745.69 779.87 746.94 781.24 748.19 782.16C749.43 783.07 750.68 782.66 751.92 783.15C753.17 783.65 754.42 785.02 755.66 785.15C756.91 785.27 758.45 783.9 759.4 783.9C760.36 783.9 761.06 784.94 761.4 785.15"/>
</g>
<rect x="82.9" y="665.3" width="704.0" height="183.7" fill="none" rx="1.2" stroke="#484848" stroke-width="1.5"/>
<text class="ti" x="389.5" y="688">Profile B4</text>
<text class="tk" x="47.77" y="703" dx="0 -1.1 -1.1 0">3120</text>
<path d="M42.17 699.2h4.8" stroke="#9a9a9a" stroke-width="1.15" fill="none"/>
<text class="tk" x="47.77" y="784.3" dx="0 -1.1 -1.1 0">3130</text>
<path d="M42.17 780.5h4.8" stroke="#9a9a9a" stroke-width="1.15" fill="none"/>
<g clip-path="url(#ct4)">
<text class="tk" x="105.5" y="863.1" dx="0">0</text>
<text class="tk" x="166.03" y="863.1" dx="0 -0.6 -0.6 0 0">0.002</text>
<text class="tk" x="239.97" y="863.1" dx="0 -0.6 -0.6 0 0">0.004</text>
<text class="tk" x="313.91" y="863.1" dx="0 -0.6 -0.6 0 0">0.006</text>
<text class="tk" x="387.85" y="863.1" dx="0 -0.6 -0.6 0 0">0.008</text>
<text class="tk" x="466.89" y="863.1" dx="0 -0.6 -0.6 -1.1">0.01</text>
<text class="tk" x="536.83" y="863.1" dx="0 -0.6 -0.6 -1.1 -1.1">0.012</text>
<text class="tk" x="610.77" y="863.1" dx="0 -0.6 -0.6 -1.1 -1.1">0.014</text>
<text class="tk" x="684.71" y="863.1" dx="0 -0.6 -0.6 -1.1 -1.1">0.016</text>
<text class="tk" x="758.65" y="863.1" dx="0 -0.6 -0.6 -1.1 -1.1">0.018</text>
</g>
<text class="yl" transform="translate(29.8 761.6) rotate(-90)" text-anchor="middle">DTM height (m)</text>
</g>
<!-- legend -->
<rect x="801.3" y="724.9" width="35.8" height="29.9" fill="#ff0010"/>
<rect x="801.3" y="754.5" width="35.8" height="33" fill="#ffff0a"/>
<rect x="801.3" y="787.2" width="35.8" height="30.9" fill="#1000ff"/>
<rect x="801.3" y="817.8" width="35.8" height="31.6" fill="#00ff10"/>
<text class="lg" x="844.8" y="743.6">CaSSIS SRR DTM</text>
<text class="lg" x="844.8" y="775.4">CaSSIS DTM</text>
<text class="lg" x="844.8" y="808.1">HiRISE DTM</text>
<text class="lg" x="844.8" y="838.5">CTX DTM</text>
<!-- map -->
<g transform="translate(796 20) scale(0.22222)">
<g clip-path="url(#mapclip)">
<rect x="0" y="0" width="880" height="880" fill="#a4e488"/>
<g filter="url(#mb2)">
<ellipse cx="100" cy="730" rx="220" ry="170" fill="#c2ee88"/>
<ellipse cx="70" cy="450" rx="100" ry="140" fill="#b6ea8c"/>
<ellipse cx="150" cy="270" rx="100" ry="100" fill="#8cdc90"/>
<ellipse cx="60" cy="80" rx="60" ry="80" fill="#98e094"/>
<ellipse cx="290" cy="490" rx="75" ry="45" fill="#5cc49c"/>
<ellipse cx="420" cy="620" rx="95" ry="60" fill="#5cc4a0"/>
<ellipse cx="420" cy="450" rx="60" ry="50" fill="#b4ea9c"/>
<ellipse cx="630" cy="755" rx="290" ry="85" fill="#46b0a8"/>
<ellipse cx="710" cy="772" rx="140" ry="42" fill="#348cc0"/>
<ellipse cx="470" cy="692" rx="55" ry="32" fill="#429cb8"/>
<ellipse cx="810" cy="835" rx="80" ry="35" fill="#58bca4"/>
<ellipse cx="320" cy="815" rx="190" ry="45" fill="#a2e28e"/>
<ellipse cx="640" cy="640" rx="200" ry="30" fill="#88d896"/>
</g>
<rect x="0" y="0" width="880" height="880" filter="url(#ngh)" opacity="0.42"/>
<rect x="0" y="0" width="880" height="880" filter="url(#ngs)" opacity="0.6"/>
<g filter="url(#mb1)">
<path fill="#fba556" d="M110 0 L100 50 L170 100 L150 160 L115 188 L200 178 L250 165 L238 230 L250 300 L296 360 L328 405 L368 396 L362 340 L356 300 L374 250 L414 204 L472 170 L540 165 L600 200 L635 270 L630 340 L590 400 L540 440 L500 505 L545 500 L570 525 L640 545 L700 560 L760 605 L880 612 L880 0 Z"/>
</g>
<g filter="url(#mb4)">
<path fill="#fbd488" d="M575 480 L640 440 L720 445 L800 410 L880 390 L880 605 L765 598 L705 552 L640 535 L580 515 Z"/>
<path fill="#f5f09c" d="M700 520 L790 500 L880 480 L880 604 L775 598 Z"/>
<path fill="#f6f0a0" d="M620 520 L700 500 L760 540 L720 560 L650 540 Z"/>
<path fill="#fcc274" d="M120 0 L112 50 L180 100 L162 160 L135 180 L200 170 L255 155 L300 100 L330 40 L330 0 Z"/>
<path fill="#f9e694" d="M125 0 L118 40 L160 60 L230 30 L240 0 Z"/>
</g>
<g filter="url(#mb4)" fill="none" stroke-linecap="round">
<path stroke="#f4452f" stroke-width="30" d="M270 290 C282 215 340 150 450 112"/>
<path stroke="#fcc67c" stroke-width="18" d="M300 305 C318 245 368 198 440 168"/>
<path stroke="#f8763e" stroke-width="20" d="M340 340 C350 284 392 240 442 210"/>
<path stroke="#f4452f" stroke-width="38" d="M655 175 C700 235 690 320 628 388"/>
<path stroke="#f2382c" stroke-width="24" d="M505 36 L600 32"/>
<path stroke="#f65436" stroke-width="28" d="M565 112 C600 122 640 142 660 172"/>
<path stroke="#f86c40" stroke-width="26" d="M700 62 C760 92 800 82 850 52" opacity="0.8"/>
<path stroke="#f86c40" stroke-width="26" d="M720 250 C770 270 800 320 850 330" opacity="0.55"/>
<path stroke="#f86c40" stroke-width="22" d="M760 150 C790 170 820 160 850 180" opacity="0.5"/>
<path stroke="#f65436" stroke-width="20" d="M522 472 C560 442 600 420 640 402" opacity="0.85"/>
<path stroke="#fccc84" stroke-width="18" d="M380 60 C430 50 470 70 520 80" opacity="0.7"/>
</g>
<g clip-path="url(#orclip)">
<rect x="0" y="0" width="880" height="880" filter="url(#noh)" opacity="0.45"/>
<rect x="0" y="0" width="880" height="880" filter="url(#nos)" opacity="0.6"/>
</g>
<g filter="url(#mb1)">
<path fill="#f6e692" d="M364 398 L356 332 L366 276 L406 216 L468 181 L540 178 L594 212 L623 276 L618 336 L580 392 L528 432 L486 500 L420 470 Z"/>
</g>
<g filter="url(#mb4)">
<path fill="#a6e694" d="M388 406 L380 337 L390 288 L428 238 L476 205 L535 201 L578 230 L602 286 L596 336 L563 380 L513 420 L468 484 L410 452 Z"/>
<path fill="#ace890" d="M372 410 L406 376 L520 425 L492 515 L440 520 L384 470 Z"/>
<ellipse cx="485" cy="330" rx="70" ry="60" fill="#94de98"/>
</g>
<g filter="url(#mb3)">
<path fill="none" stroke="#f8a24c" stroke-width="9" d="M178 602 C176 580 188 570 206 566"/>
<path fill="none" stroke="#f2f694" stroke-width="10" d="M200 634 C224 628 228 610 216 596"/>
<ellipse cx="300" cy="548" rx="22" ry="9" fill="#3c98b6"/>
<ellipse cx="262" cy="520" rx="16" ry="8" fill="#3c98b6"/>
<ellipse cx="335" cy="522" rx="18" ry="8" fill="#50b0aa"/>
<ellipse cx="276" cy="570" rx="13" ry="11" fill="#ccf094"/>
<ellipse cx="462" cy="482" rx="15" ry="13" fill="#70cc9c"/>
<ellipse cx="140" cy="182" rx="26" ry="7" fill="#f8f094"/>
<ellipse cx="332" cy="386" rx="13" ry="24" fill="#fcc06c"/>
<ellipse cx="60" cy="400" rx="26" ry="10" fill="#e6f49a"/>
<ellipse cx="120" cy="100" rx="30" ry="10" fill="#c4ee96"/>
</g>
<g stroke="#111111" stroke-width="6.2" stroke-linecap="butt" fill="none">
<path d="M593 47 L215 473"/>
<path d="M647 84 L259 531"/>
<path d="M315 86 L699 424"/>
<path d="M332 728 L840 728"/>
</g>
<g font-family="Liberation Sans, sans-serif" font-size="57" fill="#111" stroke="#111" stroke-width="1.2">
<text x="193" y="403">B1</text>
<text x="333" y="512">B2</text>
<text x="708" y="402">B3</text>
<text x="617" y="703">B4</text>
</g>
<rect x="643" y="816" width="62" height="11" fill="#0a0a0a"/>
<rect x="705" y="816" width="62" height="11" fill="#ffffff"/>
<path d="M598 828 L611 797 L624 828 L611 818 Z" fill="#f4f4f4" stroke="#e8e8e8" stroke-width="2"/>
</g>
</g>
</svg>
</body></html>
